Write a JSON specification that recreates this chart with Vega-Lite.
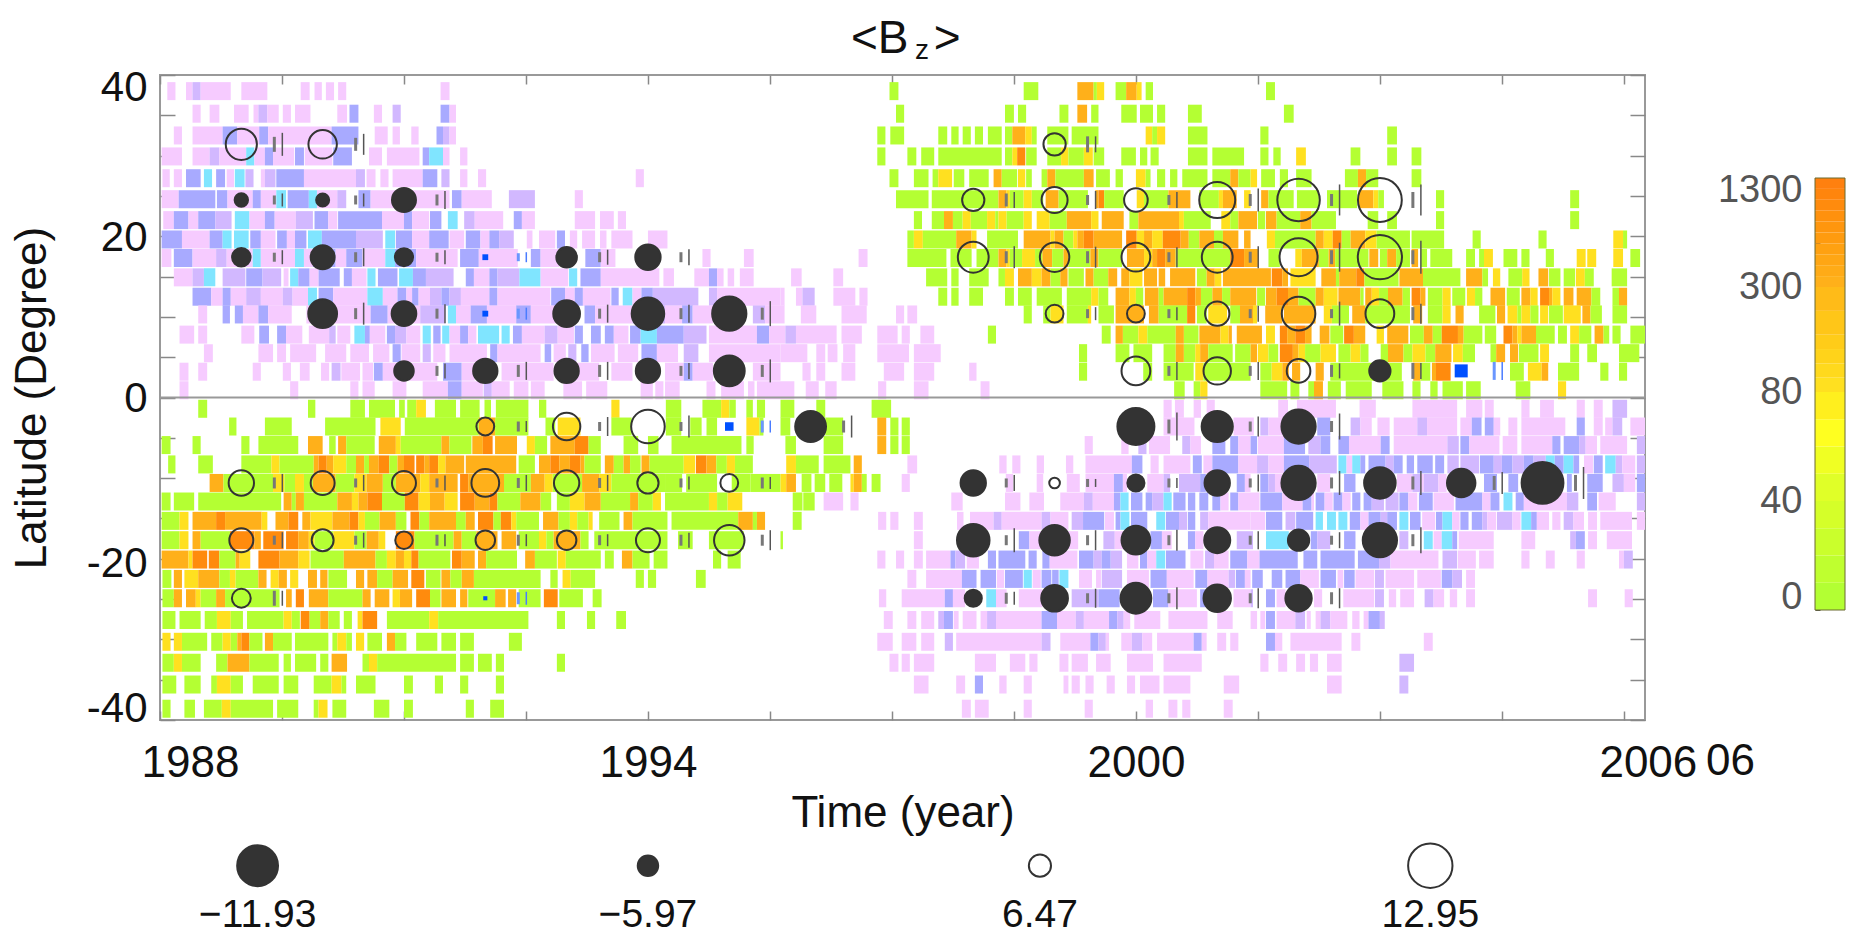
{"$schema":"https://vega.github.io/schema/vega-lite/v6.json","padding":{"left":9,"top":14,"right":0,"bottom":0},"background":"white","spacing":3,"config":{"font":"Liberation Sans"},
"datasets":{"heat":[
{"t0":1988.09,"t1":1988.19,"lat":38,"v":-1},{"t0":1988.32,"t1":1988.40,"lat":38,"v":-1},{"t0":1988.40,"t1":1988.50,"lat":38,"v":-40},{"t0":1988.50,"t1":1988.87,"lat":38,"v":-1},{"t0":1989.00,"t1":1989.32,"lat":38,"v":-1},{"t0":1989.73,"t1":1989.84,"lat":38,"v":-1},{"t0":1989.90,"t1":1989.99,"lat":38,"v":-1},{"t0":1990.04,"t1":1990.14,"lat":38,"v":-1},{"t0":1990.19,"t1":1990.29,"lat":38,"v":-1},{"t0":1991.45,"t1":1991.56,"lat":38,"v":-1},
{"t0":1988.40,"t1":1988.50,"lat":35.2,"v":-1},{"t0":1988.61,"t1":1988.73,"lat":35.2,"v":-1},{"t0":1988.91,"t1":1989.09,"lat":35.2,"v":-1},{"t0":1989.15,"t1":1989.21,"lat":35.2,"v":-1},{"t0":1989.21,"t1":1989.32,"lat":35.2,"v":-40},{"t0":1989.32,"t1":1989.46,"lat":35.2,"v":-1},{"t0":1989.51,"t1":1989.61,"lat":35.2,"v":-1},{"t0":1989.66,"t1":1989.85,"lat":35.2,"v":-1},{"t0":1990.18,"t1":1990.30,"lat":35.2,"v":-1},{"t0":1990.33,"t1":1990.44,"lat":35.2,"v":-80},{"t0":1990.63,"t1":1990.73,"lat":35.2,"v":-1},{"t0":1990.86,"t1":1990.96,"lat":35.2,"v":-40},{"t0":1991.45,"t1":1991.56,"lat":35.2,"v":-80},{"t0":1991.56,"t1":1991.64,"lat":35.2,"v":-1},
{"t0":1988.17,"t1":1988.27,"lat":32.5,"v":-1},{"t0":1988.40,"t1":1988.77,"lat":32.5,"v":-1},{"t0":1988.77,"t1":1988.95,"lat":32.5,"v":-80},{"t0":1988.95,"t1":1989.22,"lat":32.5,"v":-1},{"t0":1989.22,"t1":1989.33,"lat":32.5,"v":-80},{"t0":1989.33,"t1":1990.11,"lat":32.5,"v":-1},{"t0":1990.11,"t1":1990.44,"lat":32.5,"v":-80},{"t0":1990.64,"t1":1990.80,"lat":32.5,"v":-1},{"t0":1990.86,"t1":1990.95,"lat":32.5,"v":-1},{"t0":1991.09,"t1":1991.18,"lat":32.5,"v":-1},{"t0":1991.40,"t1":1991.48,"lat":32.5,"v":-80},{"t0":1991.48,"t1":1991.56,"lat":32.5,"v":-40},{"t0":1991.56,"t1":1991.64,"lat":32.5,"v":-1},
{"t0":1988.02,"t1":1988.27,"lat":29.9,"v":-1},{"t0":1988.40,"t1":1988.61,"lat":29.9,"v":-1},{"t0":1988.61,"t1":1988.73,"lat":29.9,"v":-40},{"t0":1988.73,"t1":1989.06,"lat":29.9,"v":-1},{"t0":1989.06,"t1":1989.16,"lat":29.9,"v":-300},{"t0":1989.16,"t1":1989.29,"lat":29.9,"v":-1},{"t0":1989.29,"t1":1989.39,"lat":29.9,"v":-80},{"t0":1989.39,"t1":1989.65,"lat":29.9,"v":-1},{"t0":1989.66,"t1":1989.77,"lat":29.9,"v":-80},{"t0":1989.78,"t1":1990.12,"lat":29.9,"v":-1},{"t0":1990.13,"t1":1990.36,"lat":29.9,"v":-80},{"t0":1990.57,"t1":1990.73,"lat":29.9,"v":-1},{"t0":1990.79,"t1":1991.19,"lat":29.9,"v":-1},{"t0":1991.23,"t1":1991.31,"lat":29.9,"v":-80},{"t0":1991.31,"t1":1991.48,"lat":29.9,"v":-300},{"t0":1991.48,"t1":1991.56,"lat":29.9,"v":-1},{"t0":1991.69,"t1":1991.78,"lat":29.9,"v":-1},
{"t0":1988.03,"t1":1988.12,"lat":27.2,"v":-1},{"t0":1988.17,"t1":1988.27,"lat":27.2,"v":-1},{"t0":1988.32,"t1":1988.50,"lat":27.2,"v":-80},{"t0":1988.54,"t1":1988.64,"lat":27.2,"v":-300},{"t0":1988.69,"t1":1988.80,"lat":27.2,"v":-80},{"t0":1988.82,"t1":1988.91,"lat":27.2,"v":-1},{"t0":1988.92,"t1":1989.04,"lat":27.2,"v":-300},{"t0":1989.05,"t1":1989.15,"lat":27.2,"v":-40},{"t0":1989.24,"t1":1989.29,"lat":27.2,"v":-1},{"t0":1989.29,"t1":1989.42,"lat":27.2,"v":-40},{"t0":1989.43,"t1":1989.77,"lat":27.2,"v":-80},{"t0":1989.77,"t1":1990.41,"lat":27.2,"v":-1},{"t0":1990.41,"t1":1990.52,"lat":27.2,"v":-40},{"t0":1990.54,"t1":1990.65,"lat":27.2,"v":-1},{"t0":1990.71,"t1":1990.81,"lat":27.2,"v":-1},{"t0":1990.86,"t1":1991.23,"lat":27.2,"v":-1},{"t0":1991.23,"t1":1991.41,"lat":27.2,"v":-80},{"t0":1991.46,"t1":1991.56,"lat":27.2,"v":-40},{"t0":1991.69,"t1":1991.78,"lat":27.2,"v":-1},{"t0":1991.91,"t1":1992.01,"lat":27.2,"v":-1},{"t0":1993.85,"t1":1993.95,"lat":27.2,"v":-1},
{"t0":1988.02,"t1":1988.23,"lat":24.6,"v":-1},{"t0":1988.23,"t1":1988.68,"lat":24.6,"v":-80},{"t0":1988.70,"t1":1988.83,"lat":24.6,"v":-80},{"t0":1988.83,"t1":1989.14,"lat":24.6,"v":-1},{"t0":1989.14,"t1":1989.24,"lat":24.6,"v":-80},{"t0":1989.24,"t1":1989.43,"lat":24.6,"v":-1},{"t0":1989.43,"t1":1989.55,"lat":24.6,"v":-300},{"t0":1989.57,"t1":1989.83,"lat":24.6,"v":-80},{"t0":1989.83,"t1":1989.93,"lat":24.6,"v":-300},{"t0":1989.93,"t1":1990.18,"lat":24.6,"v":-1},{"t0":1990.18,"t1":1990.29,"lat":24.6,"v":-40},{"t0":1990.44,"t1":1990.59,"lat":24.6,"v":-80},{"t0":1990.59,"t1":1991.56,"lat":24.6,"v":-1},{"t0":1991.59,"t1":1991.71,"lat":24.6,"v":-80},{"t0":1991.71,"t1":1992.08,"lat":24.6,"v":-1},{"t0":1992.29,"t1":1992.61,"lat":24.6,"v":-40},{"t0":1993.10,"t1":1993.20,"lat":24.6,"v":-1},
{"t0":1988.04,"t1":1988.17,"lat":22,"v":-1},{"t0":1988.17,"t1":1988.35,"lat":22,"v":-80},{"t0":1988.35,"t1":1988.47,"lat":22,"v":-1},{"t0":1988.47,"t1":1988.68,"lat":22,"v":-80},{"t0":1988.68,"t1":1988.88,"lat":22,"v":-40},{"t0":1988.92,"t1":1989.10,"lat":22,"v":-300},{"t0":1989.10,"t1":1989.29,"lat":22,"v":-1},{"t0":1989.29,"t1":1989.41,"lat":22,"v":-80},{"t0":1989.41,"t1":1989.67,"lat":22,"v":-1},{"t0":1989.67,"t1":1989.88,"lat":22,"v":-40},{"t0":1989.90,"t1":1990.07,"lat":22,"v":-80},{"t0":1990.07,"t1":1990.18,"lat":22,"v":-1},{"t0":1990.19,"t1":1990.73,"lat":22,"v":-80},{"t0":1990.73,"t1":1991.00,"lat":22,"v":-1},{"t0":1991.00,"t1":1991.10,"lat":22,"v":-80},{"t0":1991.10,"t1":1991.31,"lat":22,"v":-1},{"t0":1991.32,"t1":1991.46,"lat":22,"v":-80},{"t0":1991.54,"t1":1991.66,"lat":22,"v":-300},{"t0":1991.74,"t1":1991.87,"lat":22,"v":-40},{"t0":1991.87,"t1":1992.22,"lat":22,"v":-1},{"t0":1992.35,"t1":1992.45,"lat":22,"v":-80},{"t0":1992.45,"t1":1992.61,"lat":22,"v":-1},{"t0":1993.10,"t1":1993.35,"lat":22,"v":-1},{"t0":1993.41,"t1":1993.58,"lat":22,"v":-1},{"t0":1993.63,"t1":1993.73,"lat":22,"v":-1},
{"t0":1988.02,"t1":1988.27,"lat":19.6,"v":-80},{"t0":1988.27,"t1":1988.61,"lat":19.6,"v":-1},{"t0":1988.61,"t1":1988.77,"lat":19.6,"v":-80},{"t0":1988.77,"t1":1988.88,"lat":19.6,"v":-300},{"t0":1988.91,"t1":1989.09,"lat":19.6,"v":-300},{"t0":1989.11,"t1":1989.24,"lat":19.6,"v":-80},{"t0":1989.24,"t1":1989.42,"lat":19.6,"v":-1},{"t0":1989.44,"t1":1989.56,"lat":19.6,"v":-80},{"t0":1989.56,"t1":1989.66,"lat":19.6,"v":-1},{"t0":1989.66,"t1":1989.80,"lat":19.6,"v":-80},{"t0":1989.82,"t1":1989.99,"lat":19.6,"v":-300},{"t0":1989.99,"t1":1990.41,"lat":19.6,"v":-80},{"t0":1990.41,"t1":1990.74,"lat":19.6,"v":-40},{"t0":1990.77,"t1":1990.89,"lat":19.6,"v":-300},{"t0":1990.90,"t1":1991.10,"lat":19.6,"v":-80},{"t0":1991.10,"t1":1991.31,"lat":19.6,"v":-1},{"t0":1991.31,"t1":1991.55,"lat":19.6,"v":-80},{"t0":1991.56,"t1":1991.74,"lat":19.6,"v":-1},{"t0":1991.76,"t1":1991.94,"lat":19.6,"v":-80},{"t0":1991.94,"t1":1992.05,"lat":19.6,"v":-1},{"t0":1992.05,"t1":1992.17,"lat":19.6,"v":-80},{"t0":1992.17,"t1":1992.35,"lat":19.6,"v":-40},{"t0":1992.51,"t1":1992.58,"lat":19.6,"v":-1},{"t0":1992.66,"t1":1992.86,"lat":19.6,"v":-1},{"t0":1992.88,"t1":1992.98,"lat":19.6,"v":-80},{"t0":1993.04,"t1":1993.13,"lat":19.6,"v":-1},{"t0":1993.19,"t1":1993.35,"lat":19.6,"v":-1},{"t0":1993.41,"t1":1993.49,"lat":19.6,"v":-1},{"t0":1993.55,"t1":1993.81,"lat":19.6,"v":-1},{"t0":1994.00,"t1":1994.24,"lat":19.6,"v":-1},
{"t0":1988.02,"t1":1988.14,"lat":17.3,"v":-1},{"t0":1988.17,"t1":1988.40,"lat":17.3,"v":-80},{"t0":1988.40,"t1":1988.69,"lat":17.3,"v":-1},{"t0":1988.69,"t1":1988.82,"lat":17.3,"v":-40},{"t0":1988.82,"t1":1989.14,"lat":17.3,"v":-1},{"t0":1989.14,"t1":1989.24,"lat":17.3,"v":-300},{"t0":1989.24,"t1":1989.66,"lat":17.3,"v":-1},{"t0":1989.66,"t1":1989.77,"lat":17.3,"v":-300},{"t0":1989.77,"t1":1989.88,"lat":17.3,"v":-1},{"t0":1989.88,"t1":1990.16,"lat":17.3,"v":-80},{"t0":1990.16,"t1":1990.29,"lat":17.3,"v":-1},{"t0":1990.29,"t1":1990.49,"lat":17.3,"v":-80},{"t0":1990.49,"t1":1990.77,"lat":17.3,"v":-1},{"t0":1990.77,"t1":1990.89,"lat":17.3,"v":-300},{"t0":1990.89,"t1":1991.15,"lat":17.3,"v":-80},{"t0":1991.15,"t1":1991.66,"lat":17.3,"v":-1},{"t0":1991.69,"t1":1991.92,"lat":17.3,"v":-80},{"t0":1991.92,"t1":1992.40,"lat":17.3,"v":-1},{"t0":1992.56,"t1":1992.68,"lat":17.3,"v":-80},{"t0":1992.68,"t1":1992.91,"lat":17.3,"v":-1},{"t0":1993.23,"t1":1993.42,"lat":17.3,"v":-80},{"t0":1993.42,"t1":1993.60,"lat":17.3,"v":-1},{"t0":1994.67,"t1":1994.77,"lat":17.3,"v":-1},{"t0":1995.18,"t1":1995.30,"lat":17.3,"v":-1},
{"t0":1988.17,"t1":1988.40,"lat":14.9,"v":-1},{"t0":1988.40,"t1":1988.54,"lat":14.9,"v":-40},{"t0":1988.54,"t1":1988.68,"lat":14.9,"v":-300},{"t0":1988.77,"t1":1989.05,"lat":14.9,"v":-40},{"t0":1989.06,"t1":1989.26,"lat":14.9,"v":-80},{"t0":1989.26,"t1":1989.49,"lat":14.9,"v":-40},{"t0":1989.52,"t1":1989.58,"lat":14.9,"v":-1},{"t0":1989.60,"t1":1989.70,"lat":14.9,"v":-300},{"t0":1989.70,"t1":1989.84,"lat":14.9,"v":-80},{"t0":1989.84,"t1":1989.95,"lat":14.9,"v":-1},{"t0":1989.95,"t1":1990.21,"lat":14.9,"v":-80},{"t0":1990.26,"t1":1990.36,"lat":14.9,"v":-80},{"t0":1990.36,"t1":1990.54,"lat":14.9,"v":-1},{"t0":1990.55,"t1":1990.65,"lat":14.9,"v":-300},{"t0":1990.68,"t1":1990.92,"lat":14.9,"v":-80},{"t0":1990.94,"t1":1991.11,"lat":14.9,"v":-300},{"t0":1991.11,"t1":1991.27,"lat":14.9,"v":-80},{"t0":1991.27,"t1":1991.61,"lat":14.9,"v":-40},{"t0":1991.76,"t1":1991.86,"lat":14.9,"v":-80},{"t0":1991.86,"t1":1992.05,"lat":14.9,"v":-1},{"t0":1992.05,"t1":1992.15,"lat":14.9,"v":-80},{"t0":1992.15,"t1":1992.42,"lat":14.9,"v":-40},{"t0":1992.42,"t1":1992.68,"lat":14.9,"v":-300},{"t0":1992.68,"t1":1993.02,"lat":14.9,"v":-1},{"t0":1993.03,"t1":1993.13,"lat":14.9,"v":-300},{"t0":1993.17,"t1":1993.42,"lat":14.9,"v":-80},{"t0":1993.42,"t1":1994.14,"lat":14.9,"v":-1},{"t0":1994.19,"t1":1994.32,"lat":14.9,"v":-1},{"t0":1994.57,"t1":1994.75,"lat":14.9,"v":-1},{"t0":1994.75,"t1":1994.85,"lat":14.9,"v":-80},{"t0":1994.85,"t1":1994.93,"lat":14.9,"v":-1},{"t0":1994.98,"t1":1995.06,"lat":14.9,"v":-1},{"t0":1995.13,"t1":1995.30,"lat":14.9,"v":-1},{"t0":1995.76,"t1":1995.89,"lat":14.9,"v":-1},{"t0":1996.28,"t1":1996.40,"lat":14.9,"v":-1},
{"t0":1988.40,"t1":1988.63,"lat":12.5,"v":-80},{"t0":1988.63,"t1":1988.77,"lat":12.5,"v":-1},{"t0":1988.77,"t1":1988.87,"lat":12.5,"v":-80},{"t0":1988.87,"t1":1989.06,"lat":12.5,"v":-1},{"t0":1989.06,"t1":1989.24,"lat":12.5,"v":-40},{"t0":1989.24,"t1":1989.51,"lat":12.5,"v":-1},{"t0":1989.51,"t1":1989.63,"lat":12.5,"v":-40},{"t0":1989.63,"t1":1989.82,"lat":12.5,"v":-1},{"t0":1989.82,"t1":1989.93,"lat":12.5,"v":-300},{"t0":1989.95,"t1":1990.13,"lat":12.5,"v":-80},{"t0":1990.13,"t1":1990.55,"lat":12.5,"v":-1},{"t0":1990.55,"t1":1990.74,"lat":12.5,"v":-300},{"t0":1990.74,"t1":1990.92,"lat":12.5,"v":-1},{"t0":1990.92,"t1":1991.03,"lat":12.5,"v":-80},{"t0":1991.03,"t1":1991.10,"lat":12.5,"v":-1},{"t0":1991.10,"t1":1991.18,"lat":12.5,"v":-80},{"t0":1991.18,"t1":1991.32,"lat":12.5,"v":-1},{"t0":1991.32,"t1":1991.46,"lat":12.5,"v":-40},{"t0":1991.46,"t1":1991.56,"lat":12.5,"v":-80},{"t0":1991.56,"t1":1991.70,"lat":12.5,"v":-40},{"t0":1991.70,"t1":1992.05,"lat":12.5,"v":-1},{"t0":1992.05,"t1":1992.15,"lat":12.5,"v":-80},{"t0":1992.15,"t1":1992.80,"lat":12.5,"v":-1},{"t0":1992.81,"t1":1992.98,"lat":12.5,"v":-80},{"t0":1992.98,"t1":1993.10,"lat":12.5,"v":-1},{"t0":1993.10,"t1":1993.20,"lat":12.5,"v":-80},{"t0":1993.20,"t1":1993.54,"lat":12.5,"v":-1},{"t0":1993.55,"t1":1993.64,"lat":12.5,"v":-80},{"t0":1993.69,"t1":1993.81,"lat":12.5,"v":-300},{"t0":1993.81,"t1":1993.92,"lat":12.5,"v":-1},{"t0":1993.92,"t1":1994.06,"lat":12.5,"v":-80},{"t0":1994.06,"t1":1994.62,"lat":12.5,"v":-40},{"t0":1994.75,"t1":1994.85,"lat":12.5,"v":-40},{"t0":1994.85,"t1":1995.63,"lat":12.5,"v":-1},{"t0":1995.63,"t1":1995.68,"lat":12.5,"v":-1},{"t0":1995.82,"t1":1995.90,"lat":12.5,"v":-1},{"t0":1995.90,"t1":1996.05,"lat":12.5,"v":-40},{"t0":1996.28,"t1":1996.55,"lat":12.5,"v":-1},{"t0":1996.60,"t1":1996.70,"lat":12.5,"v":-1},
{"t0":1988.47,"t1":1988.58,"lat":10.3,"v":-1},{"t0":1988.77,"t1":1988.86,"lat":10.3,"v":-80},{"t0":1988.92,"t1":1989.02,"lat":10.3,"v":-80},{"t0":1989.02,"t1":1989.21,"lat":10.3,"v":-1},{"t0":1989.21,"t1":1989.33,"lat":10.3,"v":-80},{"t0":1989.33,"t1":1989.62,"lat":10.3,"v":-1},{"t0":1989.80,"t1":1990.59,"lat":10.3,"v":-1},{"t0":1990.59,"t1":1990.80,"lat":10.3,"v":-80},{"t0":1990.80,"t1":1991.20,"lat":10.3,"v":-1},{"t0":1991.20,"t1":1991.51,"lat":10.3,"v":-40},{"t0":1991.54,"t1":1991.64,"lat":10.3,"v":-300},{"t0":1991.64,"t1":1991.82,"lat":10.3,"v":-1},{"t0":1991.82,"t1":1992.02,"lat":10.3,"v":-80},{"t0":1992.02,"t1":1992.38,"lat":10.3,"v":-1},{"t0":1992.38,"t1":1992.56,"lat":10.3,"v":-80},{"t0":1992.56,"t1":1993.04,"lat":10.3,"v":-1},{"t0":1993.22,"t1":1993.35,"lat":10.3,"v":-80},{"t0":1993.35,"t1":1993.81,"lat":10.3,"v":-1},{"t0":1993.81,"t1":1994.21,"lat":10.3,"v":-40},{"t0":1994.21,"t1":1994.42,"lat":10.3,"v":-1},{"t0":1994.42,"t1":1994.55,"lat":10.3,"v":-80},{"t0":1994.55,"t1":1994.80,"lat":10.3,"v":-1},{"t0":1995.29,"t1":1995.44,"lat":10.3,"v":-40},{"t0":1995.44,"t1":1995.68,"lat":10.3,"v":-1},{"t0":1995.88,"t1":1996.07,"lat":10.3,"v":-1},{"t0":1996.38,"t1":1996.69,"lat":10.3,"v":-1},{"t0":1997.05,"t1":1997.15,"lat":10.3,"v":-1},{"t0":1997.19,"t1":1997.31,"lat":10.3,"v":-1},
{"t0":1988.24,"t1":1988.42,"lat":7.8,"v":-1},{"t0":1988.47,"t1":1988.58,"lat":7.8,"v":-1},{"t0":1989.00,"t1":1989.16,"lat":7.8,"v":-1},{"t0":1989.22,"t1":1989.34,"lat":7.8,"v":-80},{"t0":1989.44,"t1":1989.55,"lat":7.8,"v":-80},{"t0":1989.55,"t1":1989.75,"lat":7.8,"v":-1},{"t0":1989.83,"t1":1990.08,"lat":7.8,"v":-1},{"t0":1990.08,"t1":1990.16,"lat":7.8,"v":-40},{"t0":1990.18,"t1":1990.34,"lat":7.8,"v":-1},{"t0":1990.39,"t1":1990.52,"lat":7.8,"v":-300},{"t0":1990.52,"t1":1990.58,"lat":7.8,"v":-80},{"t0":1990.58,"t1":1990.77,"lat":7.8,"v":-1},{"t0":1990.79,"t1":1990.89,"lat":7.8,"v":-80},{"t0":1990.89,"t1":1991.03,"lat":7.8,"v":-40},{"t0":1991.03,"t1":1991.20,"lat":7.8,"v":-1},{"t0":1991.23,"t1":1991.33,"lat":7.8,"v":-300},{"t0":1991.36,"t1":1991.45,"lat":7.8,"v":-80},{"t0":1991.47,"t1":1991.56,"lat":7.8,"v":-300},{"t0":1991.56,"t1":1991.69,"lat":7.8,"v":-1},{"t0":1991.69,"t1":1991.79,"lat":7.8,"v":-80},{"t0":1991.79,"t1":1991.89,"lat":7.8,"v":-1},{"t0":1991.91,"t1":1992.17,"lat":7.8,"v":-300},{"t0":1992.20,"t1":1992.30,"lat":7.8,"v":-300},{"t0":1992.34,"t1":1992.45,"lat":7.8,"v":-80},{"t0":1992.45,"t1":1992.73,"lat":7.8,"v":-1},{"t0":1992.73,"t1":1992.89,"lat":7.8,"v":-40},{"t0":1992.89,"t1":1993.09,"lat":7.8,"v":-1},{"t0":1993.10,"t1":1993.20,"lat":7.8,"v":-80},{"t0":1993.30,"t1":1993.42,"lat":7.8,"v":-80},{"t0":1993.47,"t1":1993.58,"lat":7.8,"v":-80},{"t0":1993.58,"t1":1993.76,"lat":7.8,"v":-1},{"t0":1993.78,"t1":1993.91,"lat":7.8,"v":-80},{"t0":1993.91,"t1":1994.11,"lat":7.8,"v":-300},{"t0":1994.11,"t1":1994.44,"lat":7.8,"v":-80},{"t0":1994.44,"t1":1994.72,"lat":7.8,"v":-40},{"t0":1994.75,"t1":1995.34,"lat":7.8,"v":-1},{"t0":1995.34,"t1":1995.49,"lat":7.8,"v":-80},{"t0":1995.49,"t1":1995.69,"lat":7.8,"v":-1},{"t0":1995.69,"t1":1995.82,"lat":7.8,"v":-40},{"t0":1995.82,"t1":1996.32,"lat":7.8,"v":-1},{"t0":1996.38,"t1":1996.63,"lat":7.8,"v":-1},{"t0":1996.82,"t1":1997.07,"lat":7.8,"v":-1},{"t0":1997.12,"t1":1997.22,"lat":7.8,"v":-1},{"t0":1997.35,"t1":1997.52,"lat":7.8,"v":-1},
{"t0":1988.54,"t1":1988.65,"lat":5.5,"v":-1},{"t0":1989.21,"t1":1989.39,"lat":5.5,"v":-1},{"t0":1989.44,"t1":1989.55,"lat":5.5,"v":-1},{"t0":1989.60,"t1":1989.92,"lat":5.5,"v":-1},{"t0":1990.03,"t1":1990.29,"lat":5.5,"v":-1},{"t0":1990.34,"t1":1990.57,"lat":5.5,"v":-1},{"t0":1990.62,"t1":1990.82,"lat":5.5,"v":-1},{"t0":1990.86,"t1":1990.96,"lat":5.5,"v":-80},{"t0":1990.97,"t1":1991.20,"lat":5.5,"v":-1},{"t0":1991.23,"t1":1991.33,"lat":5.5,"v":-40},{"t0":1991.36,"t1":1991.51,"lat":5.5,"v":-1},{"t0":1991.56,"t1":1992.02,"lat":5.5,"v":-1},{"t0":1992.06,"t1":1992.15,"lat":5.5,"v":-80},{"t0":1992.15,"t1":1992.68,"lat":5.5,"v":-1},{"t0":1992.73,"t1":1992.81,"lat":5.5,"v":-80},{"t0":1992.84,"t1":1992.99,"lat":5.5,"v":-1},{"t0":1993.02,"t1":1993.12,"lat":5.5,"v":-40},{"t0":1993.18,"t1":1993.27,"lat":5.5,"v":-80},{"t0":1993.30,"t1":1993.59,"lat":5.5,"v":-1},{"t0":1993.63,"t1":1993.88,"lat":5.5,"v":-1},{"t0":1993.92,"t1":1994.11,"lat":5.5,"v":-80},{"t0":1994.11,"t1":1994.37,"lat":5.5,"v":-1},{"t0":1994.44,"t1":1994.62,"lat":5.5,"v":-40},{"t0":1994.75,"t1":1995.63,"lat":5.5,"v":-1},{"t0":1995.63,"t1":1995.96,"lat":5.5,"v":-1},{"t0":1996.07,"t1":1996.18,"lat":5.5,"v":-1},{"t0":1996.21,"t1":1996.33,"lat":5.5,"v":-1},{"t0":1996.40,"t1":1996.55,"lat":5.5,"v":-1},{"t0":1996.82,"t1":1997.21,"lat":5.5,"v":-1},{"t0":1997.27,"t1":1997.60,"lat":5.5,"v":-1},
{"t0":1988.24,"t1":1988.35,"lat":3.2,"v":-1},{"t0":1988.47,"t1":1988.58,"lat":3.2,"v":-1},{"t0":1989.14,"t1":1989.24,"lat":3.2,"v":-1},{"t0":1989.51,"t1":1989.61,"lat":3.2,"v":-1},{"t0":1989.72,"t1":1989.84,"lat":3.2,"v":-1},{"t0":1989.98,"t1":1990.08,"lat":3.2,"v":-1},{"t0":1990.11,"t1":1990.22,"lat":3.2,"v":-40},{"t0":1990.23,"t1":1990.46,"lat":3.2,"v":-1},{"t0":1990.49,"t1":1990.62,"lat":3.2,"v":-1},{"t0":1990.63,"t1":1990.74,"lat":3.2,"v":-80},{"t0":1990.74,"t1":1991.41,"lat":3.2,"v":-1},{"t0":1991.48,"t1":1991.71,"lat":3.2,"v":-80},{"t0":1991.71,"t1":1991.87,"lat":3.2,"v":-1},{"t0":1992.20,"t1":1992.84,"lat":3.2,"v":-1},{"t0":1993.04,"t1":1993.40,"lat":3.2,"v":-1},{"t0":1993.55,"t1":1993.81,"lat":3.2,"v":-1},{"t0":1994.21,"t1":1994.44,"lat":3.2,"v":-1},{"t0":1994.44,"t1":1994.55,"lat":3.2,"v":-80},{"t0":1994.55,"t1":1994.80,"lat":3.2,"v":-1},{"t0":1995.29,"t1":1995.63,"lat":3.2,"v":-1},{"t0":1995.90,"t1":1996.00,"lat":3.2,"v":-1},{"t0":1996.07,"t1":1996.18,"lat":3.2,"v":-1},{"t0":1996.38,"t1":1996.55,"lat":3.2,"v":-1},{"t0":1996.90,"t1":1997.15,"lat":3.2,"v":-1},{"t0":1997.27,"t1":1997.52,"lat":3.2,"v":-1},{"t0":1997.95,"t1":1998.04,"lat":3.2,"v":-1},
{"t0":1988.24,"t1":1988.35,"lat":0.9,"v":-1},{"t0":1989.60,"t1":1989.70,"lat":0.9,"v":-1},{"t0":1990.34,"t1":1990.44,"lat":0.9,"v":-1},{"t0":1990.49,"t1":1990.64,"lat":0.9,"v":-1},{"t0":1990.86,"t1":1991.03,"lat":0.9,"v":-1},{"t0":1991.23,"t1":1991.54,"lat":0.9,"v":-1},{"t0":1991.54,"t1":1991.71,"lat":0.9,"v":-80},{"t0":1991.71,"t1":1991.97,"lat":0.9,"v":-1},{"t0":1991.98,"t1":1992.08,"lat":0.9,"v":-40},{"t0":1992.08,"t1":1992.30,"lat":0.9,"v":-1},{"t0":1992.35,"t1":1992.53,"lat":0.9,"v":-1},{"t0":1992.56,"t1":1992.73,"lat":0.9,"v":-1},{"t0":1992.96,"t1":1993.19,"lat":0.9,"v":-1},{"t0":1993.24,"t1":1993.50,"lat":0.9,"v":-1},{"t0":1993.91,"t1":1994.06,"lat":0.9,"v":-1},{"t0":1994.09,"t1":1994.19,"lat":0.9,"v":-1},{"t0":1994.21,"t1":1994.39,"lat":0.9,"v":-1},{"t0":1994.72,"t1":1994.83,"lat":0.9,"v":-1},{"t0":1994.90,"t1":1995.18,"lat":0.9,"v":-1},{"t0":1995.23,"t1":1995.31,"lat":0.9,"v":-1},{"t0":1995.34,"t1":1995.80,"lat":0.9,"v":-1},{"t0":1995.94,"t1":1996.10,"lat":0.9,"v":-1},{"t0":1996.18,"t1":1996.32,"lat":0.9,"v":-1},{"t0":1996.83,"t1":1996.93,"lat":0.9,"v":-1},{"t0":1997.27,"t1":1997.45,"lat":0.9,"v":-1},{"t0":1998.09,"t1":1998.20,"lat":0.9,"v":-1},
{"t0":1988.47,"t1":1988.58,"lat":-1.4,"v":1},{"t0":1989.82,"t1":1989.91,"lat":-1.4,"v":1},{"t0":1990.34,"t1":1990.52,"lat":-1.4,"v":1},{"t0":1990.57,"t1":1990.89,"lat":-1.4,"v":1},{"t0":1990.94,"t1":1991.01,"lat":-1.4,"v":1},{"t0":1991.04,"t1":1991.15,"lat":-1.4,"v":1},{"t0":1991.15,"t1":1991.27,"lat":-1.4,"v":80},{"t0":1991.38,"t1":1991.64,"lat":-1.4,"v":1},{"t0":1991.69,"t1":1991.93,"lat":-1.4,"v":1},{"t0":1991.99,"t1":1992.07,"lat":-1.4,"v":1},{"t0":1992.13,"t1":1992.53,"lat":-1.4,"v":1},{"t0":1992.66,"t1":1992.75,"lat":-1.4,"v":1},{"t0":1993.55,"t1":1993.65,"lat":-1.4,"v":80},{"t0":1994.22,"t1":1994.41,"lat":-1.4,"v":1},{"t0":1994.67,"t1":1994.90,"lat":-1.4,"v":1},{"t0":1994.90,"t1":1995.00,"lat":-1.4,"v":80},{"t0":1995.00,"t1":1995.08,"lat":-1.4,"v":1},{"t0":1995.21,"t1":1995.29,"lat":-1.4,"v":1},{"t0":1995.34,"t1":1995.44,"lat":-1.4,"v":1},{"t0":1995.63,"t1":1995.80,"lat":-1.4,"v":1},{"t0":1996.07,"t1":1996.18,"lat":-1.4,"v":1},{"t0":1996.75,"t1":1996.99,"lat":-1.4,"v":1},{"t0":2000.34,"t1":2000.44,"lat":-1.4,"v":-1},{"t0":2000.48,"t1":2000.59,"lat":-1.4,"v":-1},{"t0":2000.71,"t1":2000.80,"lat":-1.4,"v":-1},{"t0":2000.87,"t1":2000.97,"lat":-1.4,"v":-1},{"t0":2001.75,"t1":2001.87,"lat":-1.4,"v":-1},{"t0":2001.98,"t1":2002.46,"lat":-1.4,"v":-1},{"t0":2002.75,"t1":2002.95,"lat":-1.4,"v":-1},{"t0":2003.40,"t1":2003.95,"lat":-1.4,"v":-1},{"t0":2004.06,"t1":2004.26,"lat":-1.4,"v":-1},{"t0":2004.29,"t1":2004.40,"lat":-1.4,"v":-1},{"t0":2004.74,"t1":2004.84,"lat":-1.4,"v":-1},{"t0":2004.97,"t1":2005.14,"lat":-1.4,"v":-1},{"t0":2005.42,"t1":2005.52,"lat":-1.4,"v":-1},{"t0":2005.63,"t1":2005.74,"lat":-1.4,"v":-1},{"t0":2005.86,"t1":2006.04,"lat":-1.4,"v":-40},
{"t0":1988.85,"t1":1988.94,"lat":-3.6,"v":1},{"t0":1989.29,"t1":1989.62,"lat":-3.6,"v":1},{"t0":1990.03,"t1":1990.65,"lat":-3.6,"v":1},{"t0":1990.71,"t1":1990.96,"lat":-3.6,"v":80},{"t0":1991.01,"t1":1991.92,"lat":-3.6,"v":1},{"t0":1991.92,"t1":1992.12,"lat":-3.6,"v":300},{"t0":1992.12,"t1":1992.53,"lat":-3.6,"v":1},{"t0":1992.74,"t1":1992.86,"lat":-3.6,"v":1},{"t0":1992.89,"t1":1993.17,"lat":-3.6,"v":80},{"t0":1993.55,"t1":1993.80,"lat":-3.6,"v":1},{"t0":1994.22,"t1":1994.41,"lat":-3.6,"v":1},{"t0":1994.52,"t1":1994.66,"lat":-3.6,"v":1},{"t0":1994.72,"t1":1994.85,"lat":-3.6,"v":1},{"t0":1995.21,"t1":1995.37,"lat":-3.6,"v":80},{"t0":1995.37,"t1":1995.42,"lat":-3.6,"v":1},{"t0":1995.63,"t1":1995.75,"lat":-3.6,"v":1},{"t0":1996.18,"t1":1996.40,"lat":-3.6,"v":1},{"t0":1996.82,"t1":1996.93,"lat":-3.6,"v":300},{"t0":1996.98,"t1":1997.08,"lat":-3.6,"v":1},{"t0":1997.12,"t1":1997.22,"lat":-3.6,"v":1},{"t0":2000.34,"t1":2000.72,"lat":-3.6,"v":-1},{"t0":2001.20,"t1":2001.45,"lat":-3.6,"v":-1},{"t0":2001.53,"t1":2001.63,"lat":-3.6,"v":-40},{"t0":2001.63,"t1":2001.82,"lat":-3.6,"v":-1},{"t0":2002.23,"t1":2002.39,"lat":-3.6,"v":-80},{"t0":2002.64,"t1":2002.76,"lat":-3.6,"v":-40},{"t0":2002.76,"t1":2002.90,"lat":-3.6,"v":-1},{"t0":2002.97,"t1":2003.12,"lat":-3.6,"v":-1},{"t0":2003.17,"t1":2003.46,"lat":-3.6,"v":-1},{"t0":2003.46,"t1":2003.58,"lat":-3.6,"v":-40},{"t0":2003.58,"t1":2003.95,"lat":-3.6,"v":-1},{"t0":2003.99,"t1":2004.13,"lat":-3.6,"v":-1},{"t0":2004.13,"t1":2004.25,"lat":-3.6,"v":-80},{"t0":2004.29,"t1":2004.40,"lat":-3.6,"v":-80},{"t0":2004.40,"t1":2004.48,"lat":-3.6,"v":-1},{"t0":2004.58,"t1":2004.69,"lat":-3.6,"v":-1},{"t0":2004.74,"t1":2005.28,"lat":-3.6,"v":-1},{"t0":2005.42,"t1":2005.52,"lat":-3.6,"v":-80},{"t0":2005.63,"t1":2005.74,"lat":-3.6,"v":-1},{"t0":2005.77,"t1":2005.86,"lat":-3.6,"v":-1},{"t0":2005.86,"t1":2005.98,"lat":-3.6,"v":-40},{"t0":2006.08,"t1":2006.26,"lat":-3.6,"v":-1},
{"t0":1988.02,"t1":1988.13,"lat":-5.9,"v":1},{"t0":1988.40,"t1":1988.50,"lat":-5.9,"v":1},{"t0":1989.00,"t1":1989.10,"lat":-5.9,"v":1},{"t0":1989.21,"t1":1989.70,"lat":-5.9,"v":1},{"t0":1989.82,"t1":1990.00,"lat":-5.9,"v":300},{"t0":1990.08,"t1":1990.16,"lat":-5.9,"v":1},{"t0":1990.19,"t1":1990.29,"lat":-5.9,"v":300},{"t0":1990.29,"t1":1990.64,"lat":-5.9,"v":1},{"t0":1990.69,"t1":1990.90,"lat":-5.9,"v":300},{"t0":1990.90,"t1":1990.96,"lat":-5.9,"v":80},{"t0":1990.96,"t1":1991.46,"lat":-5.9,"v":1},{"t0":1991.46,"t1":1991.56,"lat":-5.9,"v":300},{"t0":1991.56,"t1":1991.83,"lat":-5.9,"v":1},{"t0":1991.84,"t1":1991.97,"lat":-5.9,"v":300},{"t0":1991.97,"t1":1992.09,"lat":-5.9,"v":1000},{"t0":1992.12,"t1":1992.39,"lat":-5.9,"v":300},{"t0":1992.51,"t1":1992.61,"lat":-5.9,"v":80},{"t0":1992.61,"t1":1992.76,"lat":-5.9,"v":1},{"t0":1992.80,"t1":1993.10,"lat":-5.9,"v":300},{"t0":1993.10,"t1":1993.27,"lat":-5.9,"v":1000},{"t0":1993.27,"t1":1993.42,"lat":-5.9,"v":1},{"t0":1993.70,"t1":1993.88,"lat":-5.9,"v":1},{"t0":1994.00,"t1":1994.13,"lat":-5.9,"v":1},{"t0":1994.29,"t1":1995.15,"lat":-5.9,"v":1},{"t0":1995.21,"t1":1995.30,"lat":-5.9,"v":1},{"t0":1995.69,"t1":1995.82,"lat":-5.9,"v":1},{"t0":1996.16,"t1":1996.40,"lat":-5.9,"v":1},{"t0":1996.82,"t1":1996.93,"lat":-5.9,"v":300},{"t0":1996.98,"t1":1997.08,"lat":-5.9,"v":1},{"t0":1997.12,"t1":1997.22,"lat":-5.9,"v":1},{"t0":1999.37,"t1":1999.47,"lat":-5.9,"v":-1},{"t0":1999.82,"t1":1999.91,"lat":-5.9,"v":-1},{"t0":2000.03,"t1":2000.13,"lat":-5.9,"v":-40},{"t0":2000.16,"t1":2000.42,"lat":-5.9,"v":-1},{"t0":2000.57,"t1":2000.67,"lat":-5.9,"v":-40},{"t0":2000.67,"t1":2000.80,"lat":-5.9,"v":-1},{"t0":2000.94,"t1":2001.10,"lat":-5.9,"v":-80},{"t0":2001.16,"t1":2001.26,"lat":-5.9,"v":-80},{"t0":2001.26,"t1":2001.41,"lat":-5.9,"v":-1},{"t0":2001.41,"t1":2001.49,"lat":-5.9,"v":-80},{"t0":2001.50,"t1":2001.82,"lat":-5.9,"v":-1},{"t0":2001.82,"t1":2002.08,"lat":-5.9,"v":-80},{"t0":2002.12,"t1":2002.27,"lat":-5.9,"v":-40},{"t0":2002.27,"t1":2002.39,"lat":-5.9,"v":-80},{"t0":2002.49,"t1":2002.62,"lat":-5.9,"v":-80},{"t0":2002.62,"t1":2003.01,"lat":-5.9,"v":-1},{"t0":2003.01,"t1":2003.12,"lat":-5.9,"v":-80},{"t0":2003.17,"t1":2003.83,"lat":-5.9,"v":-1},{"t0":2003.83,"t1":2003.97,"lat":-5.9,"v":-40},{"t0":2003.99,"t1":2004.10,"lat":-5.9,"v":-80},{"t0":2004.10,"t1":2004.47,"lat":-5.9,"v":-1},{"t0":2004.51,"t1":2004.69,"lat":-5.9,"v":-1},{"t0":2004.74,"t1":2005.12,"lat":-5.9,"v":-1},{"t0":2005.12,"t1":2005.22,"lat":-5.9,"v":-80},{"t0":2005.26,"t1":2005.45,"lat":-5.9,"v":-80},{"t0":2005.45,"t1":2005.53,"lat":-5.9,"v":-40},{"t0":2005.53,"t1":2005.67,"lat":-5.9,"v":-1},{"t0":2005.71,"t1":2006.04,"lat":-5.9,"v":-1},{"t0":2006.16,"t1":2006.26,"lat":-5.9,"v":-40},
{"t0":1988.10,"t1":1988.19,"lat":-8.3,"v":1},{"t0":1988.47,"t1":1988.65,"lat":-8.3,"v":1},{"t0":1989.00,"t1":1989.37,"lat":-8.3,"v":1},{"t0":1989.37,"t1":1989.47,"lat":-8.3,"v":80},{"t0":1989.47,"t1":1989.89,"lat":-8.3,"v":1},{"t0":1989.89,"t1":1989.95,"lat":-8.3,"v":300},{"t0":1989.95,"t1":1990.05,"lat":-8.3,"v":1000},{"t0":1990.05,"t1":1990.13,"lat":-8.3,"v":300},{"t0":1990.13,"t1":1990.29,"lat":-8.3,"v":80},{"t0":1990.29,"t1":1990.41,"lat":-8.3,"v":1},{"t0":1990.41,"t1":1990.51,"lat":-8.3,"v":300},{"t0":1990.51,"t1":1990.57,"lat":-8.3,"v":1},{"t0":1990.57,"t1":1990.69,"lat":-8.3,"v":300},{"t0":1990.69,"t1":1990.82,"lat":-8.3,"v":1000},{"t0":1990.82,"t1":1990.92,"lat":-8.3,"v":1},{"t0":1990.92,"t1":1991.00,"lat":-8.3,"v":300},{"t0":1991.00,"t1":1991.13,"lat":-8.3,"v":1000},{"t0":1991.15,"t1":1991.25,"lat":-8.3,"v":1000},{"t0":1991.25,"t1":1991.31,"lat":-8.3,"v":300},{"t0":1991.31,"t1":1991.42,"lat":-8.3,"v":1000},{"t0":1991.42,"t1":1991.51,"lat":-8.3,"v":80},{"t0":1991.51,"t1":1991.74,"lat":-8.3,"v":300},{"t0":1991.76,"t1":1992.38,"lat":-8.3,"v":300},{"t0":1992.41,"t1":1992.61,"lat":-8.3,"v":1},{"t0":1992.66,"t1":1992.80,"lat":-8.3,"v":300},{"t0":1992.80,"t1":1992.91,"lat":-8.3,"v":1000},{"t0":1992.91,"t1":1993.04,"lat":-8.3,"v":300},{"t0":1993.04,"t1":1993.17,"lat":-8.3,"v":1000},{"t0":1993.17,"t1":1993.22,"lat":-8.3,"v":300},{"t0":1993.22,"t1":1993.42,"lat":-8.3,"v":1},{"t0":1993.47,"t1":1993.58,"lat":-8.3,"v":300},{"t0":1993.58,"t1":1993.70,"lat":-8.3,"v":1},{"t0":1993.70,"t1":1993.78,"lat":-8.3,"v":300},{"t0":1993.78,"t1":1993.91,"lat":-8.3,"v":1},{"t0":1993.92,"t1":1994.02,"lat":-8.3,"v":300},{"t0":1994.02,"t1":1994.44,"lat":-8.3,"v":1},{"t0":1994.44,"t1":1994.58,"lat":-8.3,"v":80},{"t0":1994.59,"t1":1994.72,"lat":-8.3,"v":1000},{"t0":1994.72,"t1":1994.84,"lat":-8.3,"v":300},{"t0":1994.84,"t1":1994.97,"lat":-8.3,"v":1},{"t0":1994.97,"t1":1995.07,"lat":-8.3,"v":80},{"t0":1995.07,"t1":1995.29,"lat":-8.3,"v":1},{"t0":1995.70,"t1":1995.82,"lat":-8.3,"v":80},{"t0":1995.82,"t1":1996.10,"lat":-8.3,"v":1},{"t0":1996.16,"t1":1996.49,"lat":-8.3,"v":1},{"t0":1996.53,"t1":1996.63,"lat":-8.3,"v":300},{"t0":1997.19,"t1":1997.31,"lat":-8.3,"v":-1},{"t0":1998.32,"t1":1998.41,"lat":-8.3,"v":-1},{"t0":1998.48,"t1":1998.58,"lat":-8.3,"v":-1},{"t0":1998.78,"t1":1998.87,"lat":-8.3,"v":-1},{"t0":1999.14,"t1":1999.23,"lat":-8.3,"v":-1},{"t0":1999.38,"t1":1999.95,"lat":-8.3,"v":-1},{"t0":1999.95,"t1":2000.08,"lat":-8.3,"v":-80},{"t0":2000.18,"t1":2000.28,"lat":-8.3,"v":-1},{"t0":2000.34,"t1":2000.67,"lat":-8.3,"v":-1},{"t0":2000.70,"t1":2000.81,"lat":-8.3,"v":-80},{"t0":2000.83,"t1":2000.94,"lat":-8.3,"v":-1},{"t0":2000.94,"t1":2001.26,"lat":-8.3,"v":-80},{"t0":2001.26,"t1":2001.49,"lat":-8.3,"v":-1},{"t0":2001.49,"t1":2001.63,"lat":-8.3,"v":-40},{"t0":2001.63,"t1":2001.82,"lat":-8.3,"v":-1},{"t0":2001.82,"t1":2002.13,"lat":-8.3,"v":-80},{"t0":2002.13,"t1":2002.47,"lat":-8.3,"v":-40},{"t0":2002.49,"t1":2002.59,"lat":-8.3,"v":-300},{"t0":2002.59,"t1":2002.66,"lat":-8.3,"v":-1},{"t0":2002.66,"t1":2002.76,"lat":-8.3,"v":-300},{"t0":2002.76,"t1":2002.82,"lat":-8.3,"v":-80},{"t0":2002.86,"t1":2003.07,"lat":-8.3,"v":-80},{"t0":2003.07,"t1":2003.17,"lat":-8.3,"v":-40},{"t0":2003.17,"t1":2003.28,"lat":-8.3,"v":-80},{"t0":2003.33,"t1":2003.42,"lat":-8.3,"v":-80},{"t0":2003.46,"t1":2003.65,"lat":-8.3,"v":-80},{"t0":2003.68,"t1":2003.79,"lat":-8.3,"v":-80},{"t0":2003.83,"t1":2003.97,"lat":-8.3,"v":-40},{"t0":2003.99,"t1":2004.22,"lat":-8.3,"v":-40},{"t0":2004.23,"t1":2004.40,"lat":-8.3,"v":-80},{"t0":2004.40,"t1":2004.50,"lat":-8.3,"v":-40},{"t0":2004.50,"t1":2004.63,"lat":-8.3,"v":-80},{"t0":2004.63,"t1":2004.77,"lat":-8.3,"v":-40},{"t0":2004.77,"t1":2004.89,"lat":-8.3,"v":-80},{"t0":2004.89,"t1":2005.04,"lat":-8.3,"v":-40},{"t0":2005.04,"t1":2005.15,"lat":-8.3,"v":-300},{"t0":2005.15,"t1":2005.26,"lat":-8.3,"v":-80},{"t0":2005.26,"t1":2005.38,"lat":-8.3,"v":-300},{"t0":2005.38,"t1":2005.45,"lat":-8.3,"v":-80},{"t0":2005.51,"t1":2005.62,"lat":-8.3,"v":-1},{"t0":2005.63,"t1":2005.74,"lat":-8.3,"v":-80},{"t0":2005.77,"t1":2005.90,"lat":-8.3,"v":-300},{"t0":2005.90,"t1":2005.98,"lat":-8.3,"v":-40},{"t0":2005.98,"t1":2006.14,"lat":-8.3,"v":-1},{"t0":2006.16,"t1":2006.26,"lat":-8.3,"v":-40},
{"t0":1988.61,"t1":1988.78,"lat":-10.6,"v":300},{"t0":1988.78,"t1":1989.39,"lat":-10.6,"v":1},{"t0":1989.39,"t1":1989.53,"lat":-10.6,"v":80},{"t0":1989.53,"t1":1989.66,"lat":-10.6,"v":1},{"t0":1989.66,"t1":1989.77,"lat":-10.6,"v":80},{"t0":1989.77,"t1":1989.88,"lat":-10.6,"v":1},{"t0":1989.88,"t1":1990.16,"lat":-10.6,"v":300},{"t0":1990.16,"t1":1990.39,"lat":-10.6,"v":1},{"t0":1990.39,"t1":1990.54,"lat":-10.6,"v":80},{"t0":1990.54,"t1":1990.74,"lat":-10.6,"v":300},{"t0":1990.74,"t1":1990.90,"lat":-10.6,"v":1},{"t0":1990.90,"t1":1991.20,"lat":-10.6,"v":300},{"t0":1991.20,"t1":1991.31,"lat":-10.6,"v":80},{"t0":1991.31,"t1":1991.66,"lat":-10.6,"v":300},{"t0":1991.69,"t1":1991.79,"lat":-10.6,"v":1000},{"t0":1991.79,"t1":1992.23,"lat":-10.6,"v":300},{"t0":1992.23,"t1":1992.56,"lat":-10.6,"v":1},{"t0":1992.56,"t1":1992.73,"lat":-10.6,"v":300},{"t0":1992.73,"t1":1992.83,"lat":-10.6,"v":80},{"t0":1992.83,"t1":1993.19,"lat":-10.6,"v":1},{"t0":1993.19,"t1":1993.40,"lat":-10.6,"v":300},{"t0":1993.40,"t1":1993.55,"lat":-10.6,"v":80},{"t0":1993.55,"t1":1994.21,"lat":-10.6,"v":1},{"t0":1994.21,"t1":1994.42,"lat":-10.6,"v":1},{"t0":1994.47,"t1":1994.85,"lat":-10.6,"v":1},{"t0":1995.03,"t1":1995.26,"lat":-10.6,"v":1},{"t0":1995.26,"t1":1995.63,"lat":-10.6,"v":1},{"t0":1995.63,"t1":1995.70,"lat":-10.6,"v":80},{"t0":1995.70,"t1":1995.82,"lat":-10.6,"v":300},{"t0":1995.89,"t1":1996.01,"lat":-10.6,"v":1},{"t0":1996.05,"t1":1996.18,"lat":-10.6,"v":1},{"t0":1996.23,"t1":1996.39,"lat":-10.6,"v":1},{"t0":1996.49,"t1":1996.53,"lat":-10.6,"v":80},{"t0":1996.53,"t1":1996.63,"lat":-10.6,"v":300},{"t0":1996.63,"t1":1996.69,"lat":-10.6,"v":1},{"t0":1996.75,"t1":1996.86,"lat":-10.6,"v":1},{"t0":1997.12,"t1":1997.22,"lat":-10.6,"v":-1},{"t0":1998.40,"t1":1998.49,"lat":-10.6,"v":-1},{"t0":1998.78,"t1":1998.86,"lat":-10.6,"v":-1},{"t0":1999.15,"t1":1999.31,"lat":-10.6,"v":-1},{"t0":1999.38,"t1":1999.73,"lat":-10.6,"v":-1},{"t0":1999.73,"t1":1999.84,"lat":-10.6,"v":-80},{"t0":1999.84,"t1":1999.89,"lat":-10.6,"v":-1},{"t0":2000.14,"t1":2000.34,"lat":-10.6,"v":-1},{"t0":2000.34,"t1":2000.42,"lat":-10.6,"v":-40},{"t0":2000.53,"t1":2000.79,"lat":-10.6,"v":-40},{"t0":2000.79,"t1":2000.86,"lat":-10.6,"v":-80},{"t0":2001.24,"t1":2001.34,"lat":-10.6,"v":-80},{"t0":2001.34,"t1":2001.41,"lat":-10.6,"v":-1},{"t0":2001.53,"t1":2001.63,"lat":-10.6,"v":-80},{"t0":2001.63,"t1":2001.71,"lat":-10.6,"v":-40},{"t0":2001.71,"t1":2001.80,"lat":-10.6,"v":-1},{"t0":2002.23,"t1":2002.39,"lat":-10.6,"v":-1},{"t0":2002.56,"t1":2002.70,"lat":-10.6,"v":-80},{"t0":2003.21,"t1":2003.40,"lat":-10.6,"v":-1},{"t0":2003.40,"t1":2003.50,"lat":-10.6,"v":-40},{"t0":2003.50,"t1":2003.54,"lat":-10.6,"v":-1},{"t0":2003.54,"t1":2003.72,"lat":-10.6,"v":-40},{"t0":2003.72,"t1":2003.82,"lat":-10.6,"v":-1},{"t0":2004.28,"t1":2004.44,"lat":-10.6,"v":-80},{"t0":2004.58,"t1":2004.70,"lat":-10.6,"v":-80},{"t0":2005.30,"t1":2005.36,"lat":-10.6,"v":-80},{"t0":2005.55,"t1":2005.74,"lat":-10.6,"v":-80},{"t0":2005.86,"t1":2006.00,"lat":-10.6,"v":-40},{"t0":2006.00,"t1":2006.14,"lat":-10.6,"v":-1},{"t0":2006.16,"t1":2006.26,"lat":-10.6,"v":-80},
{"t0":1988.02,"t1":1988.13,"lat":-12.9,"v":1},{"t0":1988.17,"t1":1988.42,"lat":-12.9,"v":1},{"t0":1988.47,"t1":1989.49,"lat":-12.9,"v":1},{"t0":1989.52,"t1":1989.62,"lat":-12.9,"v":300},{"t0":1989.62,"t1":1989.67,"lat":-12.9,"v":1},{"t0":1989.67,"t1":1989.77,"lat":-12.9,"v":300},{"t0":1989.77,"t1":1990.18,"lat":-12.9,"v":1},{"t0":1990.18,"t1":1990.36,"lat":-12.9,"v":300},{"t0":1990.36,"t1":1990.44,"lat":-12.9,"v":80},{"t0":1990.44,"t1":1990.55,"lat":-12.9,"v":300},{"t0":1990.55,"t1":1990.73,"lat":-12.9,"v":1000},{"t0":1990.73,"t1":1991.01,"lat":-12.9,"v":1},{"t0":1991.01,"t1":1991.18,"lat":-12.9,"v":1000},{"t0":1991.18,"t1":1991.32,"lat":-12.9,"v":80},{"t0":1991.32,"t1":1991.50,"lat":-12.9,"v":300},{"t0":1991.50,"t1":1991.66,"lat":-12.9,"v":80},{"t0":1991.69,"t1":1991.87,"lat":-12.9,"v":1000},{"t0":1991.87,"t1":1992.05,"lat":-12.9,"v":300},{"t0":1992.05,"t1":1992.15,"lat":-12.9,"v":1000},{"t0":1992.15,"t1":1992.43,"lat":-12.9,"v":1},{"t0":1992.43,"t1":1992.68,"lat":-12.9,"v":300},{"t0":1992.68,"t1":1992.81,"lat":-12.9,"v":1},{"t0":1992.88,"t1":1993.04,"lat":-12.9,"v":1},{"t0":1993.04,"t1":1993.22,"lat":-12.9,"v":80},{"t0":1993.22,"t1":1993.42,"lat":-12.9,"v":300},{"t0":1993.42,"t1":1993.78,"lat":-12.9,"v":1},{"t0":1993.78,"t1":1993.88,"lat":-12.9,"v":300},{"t0":1993.88,"t1":1994.06,"lat":-12.9,"v":1},{"t0":1994.06,"t1":1994.16,"lat":-12.9,"v":80},{"t0":1994.21,"t1":1994.75,"lat":-12.9,"v":1},{"t0":1994.75,"t1":1994.85,"lat":-12.9,"v":80},{"t0":1994.85,"t1":1994.98,"lat":-12.9,"v":1},{"t0":1994.98,"t1":1995.16,"lat":-12.9,"v":80},{"t0":1995.78,"t1":1995.90,"lat":-12.9,"v":1},{"t0":1995.91,"t1":1996.05,"lat":-12.9,"v":1},{"t0":1996.16,"t1":1996.40,"lat":-12.9,"v":-1},{"t0":1996.49,"t1":1996.59,"lat":-12.9,"v":-1},{"t0":1997.73,"t1":1997.87,"lat":-12.9,"v":-1},{"t0":1998.39,"t1":1998.58,"lat":-12.9,"v":-1},{"t0":1998.69,"t1":1998.87,"lat":-12.9,"v":-1},{"t0":1999.07,"t1":1999.36,"lat":-12.9,"v":-1},{"t0":1999.36,"t1":1999.47,"lat":-12.9,"v":-40},{"t0":1999.47,"t1":1999.73,"lat":-12.9,"v":-1},{"t0":1999.73,"t1":1999.81,"lat":-12.9,"v":-80},{"t0":1999.81,"t1":1999.91,"lat":-12.9,"v":-300},{"t0":1999.94,"t1":2000.08,"lat":-12.9,"v":-80},{"t0":2000.12,"t1":2000.20,"lat":-12.9,"v":-80},{"t0":2000.20,"t1":2000.34,"lat":-12.9,"v":-40},{"t0":2000.34,"t1":2000.44,"lat":-12.9,"v":-300},{"t0":2000.46,"t1":2000.61,"lat":-12.9,"v":-80},{"t0":2000.64,"t1":2000.73,"lat":-12.9,"v":-80},{"t0":2000.78,"t1":2000.89,"lat":-12.9,"v":-80},{"t0":2000.94,"t1":2001.04,"lat":-12.9,"v":-80},{"t0":2001.04,"t1":2001.14,"lat":-12.9,"v":-1},{"t0":2001.16,"t1":2001.26,"lat":-12.9,"v":-80},{"t0":2001.26,"t1":2001.52,"lat":-12.9,"v":-1},{"t0":2001.53,"t1":2001.80,"lat":-12.9,"v":-80},{"t0":2001.80,"t1":2002.05,"lat":-12.9,"v":-1},{"t0":2002.05,"t1":2002.16,"lat":-12.9,"v":-80},{"t0":2002.16,"t1":2002.19,"lat":-12.9,"v":-1},{"t0":2002.21,"t1":2002.32,"lat":-12.9,"v":-80},{"t0":2002.32,"t1":2002.42,"lat":-12.9,"v":-1},{"t0":2002.43,"t1":2002.54,"lat":-12.9,"v":-80},{"t0":2002.54,"t1":2002.64,"lat":-12.9,"v":-1},{"t0":2002.66,"t1":2002.76,"lat":-12.9,"v":-80},{"t0":2002.80,"t1":2002.90,"lat":-12.9,"v":-80},{"t0":2002.90,"t1":2003.05,"lat":-12.9,"v":-40},{"t0":2003.07,"t1":2003.23,"lat":-12.9,"v":-40},{"t0":2003.24,"t1":2003.35,"lat":-12.9,"v":-80},{"t0":2003.35,"t1":2003.46,"lat":-12.9,"v":-1},{"t0":2003.48,"t1":2003.65,"lat":-12.9,"v":-80},{"t0":2003.66,"t1":2003.91,"lat":-12.9,"v":-1},{"t0":2003.93,"t1":2004.26,"lat":-12.9,"v":-80},{"t0":2004.26,"t1":2004.36,"lat":-12.9,"v":-1},{"t0":2004.36,"t1":2004.47,"lat":-12.9,"v":-80},{"t0":2004.52,"t1":2004.63,"lat":-12.9,"v":-300},{"t0":2004.67,"t1":2004.77,"lat":-12.9,"v":-80},{"t0":2004.77,"t1":2005.30,"lat":-12.9,"v":-1},{"t0":2005.30,"t1":2005.44,"lat":-12.9,"v":-40},{"t0":2005.55,"t1":2005.67,"lat":-12.9,"v":-80},{"t0":2005.69,"t1":2005.90,"lat":-12.9,"v":-1},{"t0":2006.16,"t1":2006.26,"lat":-12.9,"v":-40},
{"t0":1988.02,"t1":1988.24,"lat":-15.3,"v":1},{"t0":1988.24,"t1":1988.35,"lat":-15.3,"v":80},{"t0":1988.40,"t1":1988.69,"lat":-15.3,"v":300},{"t0":1988.69,"t1":1988.80,"lat":-15.3,"v":1000},{"t0":1988.80,"t1":1989.25,"lat":-15.3,"v":300},{"t0":1989.25,"t1":1989.32,"lat":-15.3,"v":80},{"t0":1989.42,"t1":1989.58,"lat":-15.3,"v":300},{"t0":1989.58,"t1":1989.70,"lat":-15.3,"v":1000},{"t0":1989.75,"t1":1989.85,"lat":-15.3,"v":300},{"t0":1989.85,"t1":1990.12,"lat":-15.3,"v":80},{"t0":1990.12,"t1":1990.33,"lat":-15.3,"v":300},{"t0":1990.33,"t1":1990.44,"lat":-15.3,"v":1000},{"t0":1990.44,"t1":1990.52,"lat":-15.3,"v":80},{"t0":1990.52,"t1":1990.70,"lat":-15.3,"v":1},{"t0":1990.70,"t1":1990.90,"lat":-15.3,"v":300},{"t0":1990.90,"t1":1991.03,"lat":-15.3,"v":1},{"t0":1991.08,"t1":1991.19,"lat":-15.3,"v":1000},{"t0":1991.19,"t1":1991.31,"lat":-15.3,"v":1},{"t0":1991.31,"t1":1991.64,"lat":-15.3,"v":300},{"t0":1991.64,"t1":1991.76,"lat":-15.3,"v":1},{"t0":1991.76,"t1":1991.87,"lat":-15.3,"v":300},{"t0":1991.91,"t1":1992.10,"lat":-15.3,"v":1000},{"t0":1992.10,"t1":1992.19,"lat":-15.3,"v":1},{"t0":1992.19,"t1":1992.32,"lat":-15.3,"v":1000},{"t0":1992.32,"t1":1992.38,"lat":-15.3,"v":80},{"t0":1992.38,"t1":1992.66,"lat":-15.3,"v":1},{"t0":1992.71,"t1":1992.90,"lat":-15.3,"v":300},{"t0":1992.90,"t1":1993.04,"lat":-15.3,"v":1},{"t0":1993.04,"t1":1993.13,"lat":-15.3,"v":80},{"t0":1993.13,"t1":1993.27,"lat":-15.3,"v":1},{"t0":1993.27,"t1":1993.32,"lat":-15.3,"v":80},{"t0":1993.40,"t1":1993.65,"lat":-15.3,"v":1},{"t0":1993.70,"t1":1993.81,"lat":-15.3,"v":300},{"t0":1993.81,"t1":1994.24,"lat":-15.3,"v":1},{"t0":1994.29,"t1":1995.11,"lat":-15.3,"v":1},{"t0":1995.11,"t1":1995.29,"lat":-15.3,"v":300},{"t0":1995.29,"t1":1995.34,"lat":-15.3,"v":1},{"t0":1995.34,"t1":1995.44,"lat":-15.3,"v":300},{"t0":1995.78,"t1":1995.89,"lat":-15.3,"v":1},{"t0":1996.83,"t1":1996.93,"lat":-15.3,"v":-1},{"t0":1996.98,"t1":1997.08,"lat":-15.3,"v":-1},{"t0":1997.27,"t1":1997.38,"lat":-15.3,"v":-1},{"t0":1997.80,"t1":1997.88,"lat":-15.3,"v":-1},{"t0":1997.96,"t1":1998.25,"lat":-15.3,"v":-1},{"t0":1998.25,"t1":1998.35,"lat":-15.3,"v":-40},{"t0":1998.35,"t1":1998.84,"lat":-15.3,"v":-1},{"t0":1998.84,"t1":1998.95,"lat":-15.3,"v":-40},{"t0":1998.95,"t1":1999.17,"lat":-15.3,"v":-1},{"t0":1999.21,"t1":1999.35,"lat":-15.3,"v":-40},{"t0":1999.35,"t1":1999.61,"lat":-15.3,"v":-80},{"t0":1999.62,"t1":1999.73,"lat":-15.3,"v":-1},{"t0":1999.75,"t1":1999.81,"lat":-15.3,"v":-80},{"t0":1999.81,"t1":1999.92,"lat":-15.3,"v":-300},{"t0":1999.94,"t1":2000.14,"lat":-15.3,"v":-80},{"t0":2000.25,"t1":2000.36,"lat":-15.3,"v":-300},{"t0":2000.37,"t1":2000.53,"lat":-15.3,"v":-80},{"t0":2000.53,"t1":2000.63,"lat":-15.3,"v":-40},{"t0":2000.64,"t1":2000.73,"lat":-15.3,"v":-80},{"t0":2000.79,"t1":2000.89,"lat":-15.3,"v":-40},{"t0":2000.89,"t1":2001.41,"lat":-15.3,"v":-1},{"t0":2001.41,"t1":2001.59,"lat":-15.3,"v":-1},{"t0":2001.60,"t1":2001.80,"lat":-15.3,"v":-80},{"t0":2001.84,"t1":2001.96,"lat":-15.3,"v":-40},{"t0":2001.97,"t1":2002.18,"lat":-15.3,"v":-80},{"t0":2002.21,"t1":2002.30,"lat":-15.3,"v":-300},{"t0":2002.35,"t1":2002.46,"lat":-15.3,"v":-300},{"t0":2002.49,"t1":2002.60,"lat":-15.3,"v":-300},{"t0":2002.63,"t1":2002.76,"lat":-15.3,"v":-80},{"t0":2002.76,"t1":2002.86,"lat":-15.3,"v":-1},{"t0":2002.86,"t1":2003.01,"lat":-15.3,"v":-80},{"t0":2003.01,"t1":2003.09,"lat":-15.3,"v":-40},{"t0":2003.09,"t1":2003.21,"lat":-15.3,"v":-80},{"t0":2003.24,"t1":2003.35,"lat":-15.3,"v":-300},{"t0":2003.37,"t1":2003.50,"lat":-15.3,"v":-80},{"t0":2003.52,"t1":2003.68,"lat":-15.3,"v":-1},{"t0":2003.69,"t1":2003.77,"lat":-15.3,"v":-80},{"t0":2003.77,"t1":2003.89,"lat":-15.3,"v":-300},{"t0":2003.89,"t1":2003.98,"lat":-15.3,"v":-1},{"t0":2003.99,"t1":2004.09,"lat":-15.3,"v":-80},{"t0":2004.13,"t1":2004.26,"lat":-15.3,"v":-80},{"t0":2004.26,"t1":2004.32,"lat":-15.3,"v":-40},{"t0":2004.32,"t1":2004.43,"lat":-15.3,"v":-1},{"t0":2004.44,"t1":2004.63,"lat":-15.3,"v":-40},{"t0":2004.63,"t1":2004.73,"lat":-15.3,"v":-1},{"t0":2004.74,"t1":2004.86,"lat":-15.3,"v":-300},{"t0":2004.86,"t1":2004.93,"lat":-15.3,"v":-80},{"t0":2004.93,"t1":2005.08,"lat":-15.3,"v":-1},{"t0":2005.12,"t1":2005.22,"lat":-15.3,"v":-1},{"t0":2005.26,"t1":2005.38,"lat":-15.3,"v":-40},{"t0":2005.38,"t1":2005.51,"lat":-15.3,"v":-1},{"t0":2005.56,"t1":2005.67,"lat":-15.3,"v":-1},{"t0":2005.71,"t1":2006.10,"lat":-15.3,"v":-1},{"t0":2006.16,"t1":2006.26,"lat":-15.3,"v":-1},
{"t0":1988.02,"t1":1988.24,"lat":-17.7,"v":1},{"t0":1988.24,"t1":1988.35,"lat":-17.7,"v":80},{"t0":1988.40,"t1":1988.50,"lat":-17.7,"v":300},{"t0":1988.50,"t1":1988.86,"lat":-17.7,"v":1},{"t0":1988.86,"t1":1989.16,"lat":-17.7,"v":1000},{"t0":1989.16,"t1":1989.24,"lat":-17.7,"v":300},{"t0":1989.27,"t1":1989.52,"lat":-17.7,"v":1000},{"t0":1989.55,"t1":1989.70,"lat":-17.7,"v":1000},{"t0":1989.70,"t1":1989.83,"lat":-17.7,"v":300},{"t0":1989.83,"t1":1989.90,"lat":-17.7,"v":80},{"t0":1989.90,"t1":1990.13,"lat":-17.7,"v":1},{"t0":1990.13,"t1":1990.39,"lat":-17.7,"v":80},{"t0":1990.39,"t1":1990.54,"lat":-17.7,"v":1},{"t0":1990.54,"t1":1990.69,"lat":-17.7,"v":300},{"t0":1990.69,"t1":1990.77,"lat":-17.7,"v":80},{"t0":1990.90,"t1":1991.13,"lat":-17.7,"v":1000},{"t0":1991.13,"t1":1991.61,"lat":-17.7,"v":1},{"t0":1991.61,"t1":1991.71,"lat":-17.7,"v":300},{"t0":1991.71,"t1":1991.89,"lat":-17.7,"v":1},{"t0":1991.89,"t1":1992.15,"lat":-17.7,"v":300},{"t0":1992.20,"t1":1992.38,"lat":-17.7,"v":300},{"t0":1992.41,"t1":1992.66,"lat":-17.7,"v":1},{"t0":1992.66,"t1":1992.75,"lat":-17.7,"v":80},{"t0":1992.75,"t1":1992.84,"lat":-17.7,"v":1},{"t0":1992.84,"t1":1993.17,"lat":-17.7,"v":300},{"t0":1993.17,"t1":1993.27,"lat":-17.7,"v":1},{"t0":1993.34,"t1":1994.24,"lat":-17.7,"v":1},{"t0":1994.37,"t1":1994.55,"lat":-17.7,"v":1},{"t0":1994.75,"t1":1995.18,"lat":-17.7,"v":1},{"t0":1995.63,"t1":1995.66,"lat":-17.7,"v":1},{"t0":1997.27,"t1":1997.38,"lat":-17.7,"v":-1},{"t0":1998.56,"t1":1998.69,"lat":-17.7,"v":-80},{"t0":1998.69,"t1":1999.02,"lat":-17.7,"v":-1},{"t0":1999.02,"t1":1999.13,"lat":-17.7,"v":-40},{"t0":1999.15,"t1":1999.29,"lat":-17.7,"v":-1},{"t0":1999.60,"t1":1999.74,"lat":-17.7,"v":-40},{"t0":1999.74,"t1":1999.90,"lat":-17.7,"v":-1},{"t0":2000.18,"t1":2000.32,"lat":-17.7,"v":-80},{"t0":2000.32,"t1":2000.44,"lat":-17.7,"v":-1},{"t0":2000.64,"t1":2000.73,"lat":-17.7,"v":-80},{"t0":2000.73,"t1":2000.83,"lat":-17.7,"v":-1},{"t0":2001.24,"t1":2001.44,"lat":-17.7,"v":-40},{"t0":2001.60,"t1":2001.88,"lat":-17.7,"v":-300},{"t0":2002.15,"t1":2002.23,"lat":-17.7,"v":-80},{"t0":2002.23,"t1":2002.39,"lat":-17.7,"v":-40},{"t0":2002.56,"t1":2002.70,"lat":-17.7,"v":-80},{"t0":2003.24,"t1":2003.35,"lat":-17.7,"v":-40},{"t0":2003.54,"t1":2003.65,"lat":-17.7,"v":-300},{"t0":2003.66,"t1":2003.76,"lat":-17.7,"v":-1},{"t0":2003.76,"t1":2003.89,"lat":-17.7,"v":-300},{"t0":2003.89,"t1":2003.95,"lat":-17.7,"v":-80},{"t0":2003.97,"t1":2004.40,"lat":-17.7,"v":-1},{"t0":2004.74,"t1":2004.91,"lat":-17.7,"v":-1},{"t0":2005.34,"t1":2005.41,"lat":-17.7,"v":-40},{"t0":2005.41,"t1":2005.52,"lat":-17.7,"v":-80},{"t0":2005.56,"t1":2005.67,"lat":-17.7,"v":-1},{"t0":2005.79,"t1":2006.10,"lat":-17.7,"v":-1},
{"t0":1988.02,"t1":1988.35,"lat":-20.1,"v":300},{"t0":1988.35,"t1":1988.40,"lat":-20.1,"v":80},{"t0":1988.40,"t1":1988.58,"lat":-20.1,"v":1000},{"t0":1988.60,"t1":1988.73,"lat":-20.1,"v":1000},{"t0":1988.73,"t1":1988.93,"lat":-20.1,"v":1},{"t0":1988.93,"t1":1988.98,"lat":-20.1,"v":300},{"t0":1988.98,"t1":1989.11,"lat":-20.1,"v":80},{"t0":1989.21,"t1":1989.47,"lat":-20.1,"v":1000},{"t0":1989.47,"t1":1989.70,"lat":-20.1,"v":300},{"t0":1989.70,"t1":1989.84,"lat":-20.1,"v":80},{"t0":1989.85,"t1":1990.26,"lat":-20.1,"v":1},{"t0":1990.26,"t1":1990.65,"lat":-20.1,"v":300},{"t0":1990.65,"t1":1990.79,"lat":-20.1,"v":1},{"t0":1990.79,"t1":1990.90,"lat":-20.1,"v":80},{"t0":1990.90,"t1":1991.00,"lat":-20.1,"v":300},{"t0":1991.00,"t1":1991.09,"lat":-20.1,"v":80},{"t0":1991.09,"t1":1991.18,"lat":-20.1,"v":1000},{"t0":1991.18,"t1":1991.57,"lat":-20.1,"v":1},{"t0":1991.59,"t1":1991.71,"lat":-20.1,"v":1000},{"t0":1991.71,"t1":1991.87,"lat":-20.1,"v":300},{"t0":1991.91,"t1":1992.01,"lat":-20.1,"v":300},{"t0":1992.01,"t1":1992.39,"lat":-20.1,"v":1},{"t0":1992.49,"t1":1992.61,"lat":-20.1,"v":300},{"t0":1992.61,"t1":1992.88,"lat":-20.1,"v":1},{"t0":1992.89,"t1":1992.99,"lat":-20.1,"v":80},{"t0":1992.99,"t1":1993.42,"lat":-20.1,"v":1},{"t0":1993.47,"t1":1993.58,"lat":-20.1,"v":1},{"t0":1993.68,"t1":1993.81,"lat":-20.1,"v":300},{"t0":1993.81,"t1":1994.02,"lat":-20.1,"v":1},{"t0":1994.07,"t1":1994.24,"lat":-20.1,"v":1},{"t0":1994.80,"t1":1994.90,"lat":-20.1,"v":1},{"t0":1994.98,"t1":1995.14,"lat":-20.1,"v":1},{"t0":1996.82,"t1":1996.92,"lat":-20.1,"v":-1},{"t0":1997.05,"t1":1997.15,"lat":-20.1,"v":-1},{"t0":1997.27,"t1":1997.38,"lat":-20.1,"v":-1},{"t0":1997.42,"t1":1997.72,"lat":-20.1,"v":-1},{"t0":1997.72,"t1":1997.78,"lat":-20.1,"v":-80},{"t0":1997.78,"t1":1997.90,"lat":-20.1,"v":-40},{"t0":1997.92,"t1":1998.07,"lat":-20.1,"v":-1},{"t0":1998.18,"t1":1998.28,"lat":-20.1,"v":-80},{"t0":1998.31,"t1":1998.64,"lat":-20.1,"v":-80},{"t0":1998.68,"t1":1998.78,"lat":-20.1,"v":-80},{"t0":1998.85,"t1":1998.94,"lat":-20.1,"v":-80},{"t0":1998.94,"t1":1999.28,"lat":-20.1,"v":-1},{"t0":1999.30,"t1":1999.48,"lat":-20.1,"v":-80},{"t0":1999.48,"t1":1999.58,"lat":-20.1,"v":-40},{"t0":1999.58,"t1":1999.69,"lat":-20.1,"v":-80},{"t0":1999.69,"t1":1999.83,"lat":-20.1,"v":-40},{"t0":1999.89,"t1":2000.03,"lat":-20.1,"v":-1},{"t0":2000.05,"t1":2000.14,"lat":-20.1,"v":-80},{"t0":2000.14,"t1":2000.25,"lat":-20.1,"v":-1},{"t0":2000.25,"t1":2000.36,"lat":-20.1,"v":-300},{"t0":2000.37,"t1":2000.61,"lat":-20.1,"v":-80},{"t0":2000.67,"t1":2000.83,"lat":-20.1,"v":-1},{"t0":2000.85,"t1":2000.96,"lat":-20.1,"v":-40},{"t0":2000.96,"t1":2001.14,"lat":-20.1,"v":-1},{"t0":2001.16,"t1":2001.37,"lat":-20.1,"v":-80},{"t0":2001.37,"t1":2001.52,"lat":-20.1,"v":-1},{"t0":2001.52,"t1":2001.99,"lat":-20.1,"v":-80},{"t0":2002.06,"t1":2002.23,"lat":-20.1,"v":-80},{"t0":2002.27,"t1":2002.69,"lat":-20.1,"v":-80},{"t0":2002.73,"t1":2002.99,"lat":-20.1,"v":-80},{"t0":2002.99,"t1":2003.13,"lat":-20.1,"v":-40},{"t0":2003.13,"t1":2003.72,"lat":-20.1,"v":-1},{"t0":2003.77,"t1":2003.95,"lat":-20.1,"v":-40},{"t0":2003.96,"t1":2004.18,"lat":-20.1,"v":-1},{"t0":2004.22,"t1":2004.40,"lat":-20.1,"v":-1},{"t0":2004.74,"t1":2004.84,"lat":-20.1,"v":-1},{"t0":2005.04,"t1":2005.15,"lat":-20.1,"v":-1},{"t0":2005.42,"t1":2005.52,"lat":-20.1,"v":-1},{"t0":2005.94,"t1":2006.00,"lat":-20.1,"v":-1},{"t0":2006.00,"t1":2006.11,"lat":-20.1,"v":-40},
{"t0":1988.03,"t1":1988.14,"lat":-22.5,"v":1},{"t0":1988.17,"t1":1988.27,"lat":-22.5,"v":300},{"t0":1988.30,"t1":1988.47,"lat":-22.5,"v":80},{"t0":1988.47,"t1":1988.73,"lat":-22.5,"v":300},{"t0":1988.73,"t1":1988.86,"lat":-22.5,"v":1},{"t0":1988.86,"t1":1988.93,"lat":-22.5,"v":80},{"t0":1988.93,"t1":1989.21,"lat":-22.5,"v":1},{"t0":1989.21,"t1":1989.31,"lat":-22.5,"v":300},{"t0":1989.36,"t1":1989.46,"lat":-22.5,"v":80},{"t0":1989.46,"t1":1989.56,"lat":-22.5,"v":300},{"t0":1989.60,"t1":1989.70,"lat":-22.5,"v":80},{"t0":1989.82,"t1":1989.93,"lat":-22.5,"v":300},{"t0":1989.97,"t1":1990.06,"lat":-22.5,"v":300},{"t0":1990.07,"t1":1990.30,"lat":-22.5,"v":1},{"t0":1990.41,"t1":1990.51,"lat":-22.5,"v":300},{"t0":1990.55,"t1":1990.67,"lat":-22.5,"v":300},{"t0":1990.67,"t1":1990.86,"lat":-22.5,"v":1},{"t0":1990.86,"t1":1991.05,"lat":-22.5,"v":300},{"t0":1991.09,"t1":1991.25,"lat":-22.5,"v":1000},{"t0":1991.27,"t1":1991.45,"lat":-22.5,"v":1},{"t0":1991.46,"t1":1991.57,"lat":-22.5,"v":300},{"t0":1991.57,"t1":1991.71,"lat":-22.5,"v":1},{"t0":1991.71,"t1":1991.86,"lat":-22.5,"v":300},{"t0":1991.86,"t1":1992.68,"lat":-22.5,"v":1},{"t0":1992.80,"t1":1992.89,"lat":-22.5,"v":1},{"t0":1992.95,"t1":1993.05,"lat":-22.5,"v":80},{"t0":1993.05,"t1":1993.35,"lat":-22.5,"v":1},{"t0":1993.85,"t1":1993.95,"lat":-22.5,"v":1},{"t0":1994.00,"t1":1994.10,"lat":-22.5,"v":1},{"t0":1994.59,"t1":1994.71,"lat":-22.5,"v":1},{"t0":1997.19,"t1":1997.30,"lat":-22.5,"v":-1},{"t0":1997.42,"t1":1997.86,"lat":-22.5,"v":-1},{"t0":1997.86,"t1":1998.04,"lat":-22.5,"v":-80},{"t0":1998.09,"t1":1998.28,"lat":-22.5,"v":-80},{"t0":1998.29,"t1":1998.38,"lat":-22.5,"v":-1},{"t0":1998.39,"t1":1998.61,"lat":-22.5,"v":-80},{"t0":1998.62,"t1":1998.72,"lat":-22.5,"v":-300},{"t0":1998.73,"t1":1998.83,"lat":-22.5,"v":-1},{"t0":1998.84,"t1":1998.96,"lat":-22.5,"v":-80},{"t0":1998.97,"t1":1999.05,"lat":-22.5,"v":-80},{"t0":1999.06,"t1":1999.17,"lat":-22.5,"v":-300},{"t0":1999.30,"t1":1999.46,"lat":-22.5,"v":-1},{"t0":1999.51,"t1":1999.57,"lat":-22.5,"v":-1},{"t0":1999.58,"t1":1999.83,"lat":-22.5,"v":-40},{"t0":1999.89,"t1":2000.16,"lat":-22.5,"v":-1},{"t0":2000.18,"t1":2000.38,"lat":-22.5,"v":-80},{"t0":2000.38,"t1":2000.71,"lat":-22.5,"v":-1},{"t0":2000.73,"t1":2000.88,"lat":-22.5,"v":-80},{"t0":2000.88,"t1":2001.14,"lat":-22.5,"v":-1},{"t0":2001.14,"t1":2001.22,"lat":-22.5,"v":-40},{"t0":2001.23,"t1":2001.34,"lat":-22.5,"v":-80},{"t0":2001.34,"t1":2001.41,"lat":-22.5,"v":-1},{"t0":2001.43,"t1":2001.56,"lat":-22.5,"v":-80},{"t0":2001.67,"t1":2001.80,"lat":-22.5,"v":-80},{"t0":2001.84,"t1":2002.02,"lat":-22.5,"v":-80},{"t0":2002.02,"t1":2002.25,"lat":-22.5,"v":-1},{"t0":2002.27,"t1":2002.46,"lat":-22.5,"v":-80},{"t0":2002.48,"t1":2002.55,"lat":-22.5,"v":-1},{"t0":2002.56,"t1":2002.69,"lat":-22.5,"v":-80},{"t0":2002.70,"t1":2002.93,"lat":-22.5,"v":-1},{"t0":2002.94,"t1":2003.05,"lat":-22.5,"v":-40},{"t0":2003.07,"t1":2003.42,"lat":-22.5,"v":-1},{"t0":2003.46,"t1":2003.75,"lat":-22.5,"v":-1},{"t0":2003.76,"t1":2003.89,"lat":-22.5,"v":-80},{"t0":2003.89,"t1":2004.01,"lat":-22.5,"v":-40},{"t0":2004.06,"t1":2004.17,"lat":-22.5,"v":-1},
{"t0":1988.03,"t1":1988.17,"lat":-24.9,"v":1},{"t0":1988.17,"t1":1988.27,"lat":-24.9,"v":300},{"t0":1988.32,"t1":1988.44,"lat":-24.9,"v":300},{"t0":1988.44,"t1":1988.50,"lat":-24.9,"v":80},{"t0":1988.50,"t1":1988.69,"lat":-24.9,"v":1},{"t0":1988.69,"t1":1988.80,"lat":-24.9,"v":300},{"t0":1988.80,"t1":1989.47,"lat":-24.9,"v":1},{"t0":1989.55,"t1":1989.62,"lat":-24.9,"v":300},{"t0":1989.67,"t1":1989.77,"lat":-24.9,"v":1000},{"t0":1989.83,"t1":1990.07,"lat":-24.9,"v":300},{"t0":1990.07,"t1":1990.49,"lat":-24.9,"v":1},{"t0":1990.49,"t1":1990.59,"lat":-24.9,"v":300},{"t0":1990.64,"t1":1990.82,"lat":-24.9,"v":300},{"t0":1990.86,"t1":1990.95,"lat":-24.9,"v":80},{"t0":1990.95,"t1":1991.10,"lat":-24.9,"v":300},{"t0":1991.15,"t1":1991.32,"lat":-24.9,"v":1000},{"t0":1991.32,"t1":1991.45,"lat":-24.9,"v":1},{"t0":1991.46,"t1":1991.64,"lat":-24.9,"v":300},{"t0":1991.69,"t1":1991.78,"lat":-24.9,"v":300},{"t0":1991.79,"t1":1992.12,"lat":-24.9,"v":1},{"t0":1992.12,"t1":1992.25,"lat":-24.9,"v":300},{"t0":1992.28,"t1":1992.38,"lat":-24.9,"v":300},{"t0":1992.41,"t1":1992.68,"lat":-24.9,"v":1},{"t0":1992.72,"t1":1992.89,"lat":-24.9,"v":1000},{"t0":1992.91,"t1":1993.20,"lat":-24.9,"v":1},{"t0":1993.32,"t1":1993.43,"lat":-24.9,"v":1},{"t0":1996.84,"t1":1996.93,"lat":-24.9,"v":-1},{"t0":1997.12,"t1":1997.65,"lat":-24.9,"v":-1},{"t0":1997.65,"t1":1997.75,"lat":-24.9,"v":-80},{"t0":1997.75,"t1":1997.90,"lat":-24.9,"v":-1},{"t0":1998.16,"t1":1998.28,"lat":-24.9,"v":-300},{"t0":1998.28,"t1":1998.41,"lat":-24.9,"v":-1},{"t0":1998.56,"t1":1998.85,"lat":-24.9,"v":-1},{"t0":1999.21,"t1":1999.54,"lat":-24.9,"v":-40},{"t0":1999.54,"t1":1999.80,"lat":-24.9,"v":-80},{"t0":2000.21,"t1":2000.40,"lat":-24.9,"v":-80},{"t0":2000.40,"t1":2000.75,"lat":-24.9,"v":-1},{"t0":2000.79,"t1":2000.87,"lat":-24.9,"v":-80},{"t0":2001.20,"t1":2001.41,"lat":-24.9,"v":-1},{"t0":2001.41,"t1":2001.44,"lat":-24.9,"v":-40},{"t0":2001.60,"t1":2001.71,"lat":-24.9,"v":-80},{"t0":2001.73,"t1":2001.84,"lat":-24.9,"v":-1},{"t0":2002.19,"t1":2002.29,"lat":-24.9,"v":-1},{"t0":2002.55,"t1":2002.93,"lat":-24.9,"v":-1},{"t0":2002.94,"t1":2003.05,"lat":-24.9,"v":-40},{"t0":2003.11,"t1":2003.20,"lat":-24.9,"v":-1},{"t0":2003.25,"t1":2003.42,"lat":-24.9,"v":-1},{"t0":2003.55,"t1":2003.66,"lat":-24.9,"v":-40},{"t0":2003.66,"t1":2003.79,"lat":-24.9,"v":-1},{"t0":2003.86,"t1":2003.95,"lat":-24.9,"v":-1},{"t0":2004.06,"t1":2004.17,"lat":-24.9,"v":-1},{"t0":2005.56,"t1":2005.67,"lat":-24.9,"v":-1},{"t0":2006.01,"t1":2006.11,"lat":-24.9,"v":-1},
{"t0":1988.03,"t1":1988.19,"lat":-27.6,"v":1},{"t0":1988.24,"t1":1988.50,"lat":-27.6,"v":1},{"t0":1988.55,"t1":1988.70,"lat":-27.6,"v":1},{"t0":1988.70,"t1":1988.87,"lat":-27.6,"v":80},{"t0":1988.87,"t1":1989.02,"lat":-27.6,"v":1},{"t0":1989.07,"t1":1989.52,"lat":-27.6,"v":1},{"t0":1989.52,"t1":1989.62,"lat":-27.6,"v":80},{"t0":1989.62,"t1":1989.72,"lat":-27.6,"v":1},{"t0":1989.73,"t1":1989.84,"lat":-27.6,"v":1000},{"t0":1989.84,"t1":1989.97,"lat":-27.6,"v":1},{"t0":1989.97,"t1":1990.07,"lat":-27.6,"v":300},{"t0":1990.07,"t1":1990.21,"lat":-27.6,"v":1},{"t0":1990.26,"t1":1990.36,"lat":-27.6,"v":1},{"t0":1990.43,"t1":1990.49,"lat":-27.6,"v":80},{"t0":1990.49,"t1":1990.67,"lat":-27.6,"v":1000},{"t0":1990.79,"t1":1991.31,"lat":-27.6,"v":1},{"t0":1991.31,"t1":1991.42,"lat":-27.6,"v":80},{"t0":1991.42,"t1":1992.53,"lat":-27.6,"v":1},{"t0":1992.88,"t1":1992.98,"lat":-27.6,"v":1},{"t0":1993.25,"t1":1993.35,"lat":-27.6,"v":1},{"t0":1993.61,"t1":1993.73,"lat":-27.6,"v":1},{"t0":1996.90,"t1":1997.01,"lat":-27.6,"v":-1},{"t0":1997.19,"t1":1997.30,"lat":-27.6,"v":-1},{"t0":1997.36,"t1":1997.52,"lat":-27.6,"v":-1},{"t0":1997.57,"t1":1997.64,"lat":-27.6,"v":-40},{"t0":1997.64,"t1":1997.75,"lat":-27.6,"v":-80},{"t0":1997.76,"t1":1997.82,"lat":-27.6,"v":-1},{"t0":1997.87,"t1":1998.04,"lat":-27.6,"v":-1},{"t0":1998.09,"t1":1998.17,"lat":-27.6,"v":-1},{"t0":1998.17,"t1":1998.28,"lat":-27.6,"v":-40},{"t0":1998.28,"t1":1998.84,"lat":-27.6,"v":-1},{"t0":1998.84,"t1":1999.03,"lat":-27.6,"v":-80},{"t0":1999.03,"t1":1999.26,"lat":-27.6,"v":-1},{"t0":1999.26,"t1":1999.36,"lat":-27.6,"v":-40},{"t0":1999.36,"t1":1999.67,"lat":-27.6,"v":-1},{"t0":1999.67,"t1":1999.77,"lat":-27.6,"v":-80},{"t0":1999.77,"t1":1999.85,"lat":-27.6,"v":-40},{"t0":1999.85,"t1":1999.93,"lat":-27.6,"v":-1},{"t0":1999.98,"t1":2000.30,"lat":-27.6,"v":-1},{"t0":2000.40,"t1":2000.88,"lat":-27.6,"v":-1},{"t0":2001.00,"t1":2001.19,"lat":-27.6,"v":-1},{"t0":2001.41,"t1":2001.49,"lat":-27.6,"v":-1},{"t0":2001.53,"t1":2001.59,"lat":-27.6,"v":-1},{"t0":2001.60,"t1":2001.71,"lat":-27.6,"v":-80},{"t0":2001.73,"t1":2001.96,"lat":-27.6,"v":-1},{"t0":2001.96,"t1":2002.08,"lat":-27.6,"v":-40},{"t0":2002.10,"t1":2002.15,"lat":-27.6,"v":-1},{"t0":2002.21,"t1":2002.27,"lat":-27.6,"v":-1},{"t0":2002.27,"t1":2002.39,"lat":-27.6,"v":-40},{"t0":2002.39,"t1":2002.60,"lat":-27.6,"v":-1},{"t0":2002.66,"t1":2002.75,"lat":-27.6,"v":-1},{"t0":2002.80,"t1":2002.86,"lat":-27.6,"v":-1},{"t0":2002.86,"t1":2003.00,"lat":-27.6,"v":-80},{"t0":2003.00,"t1":2003.06,"lat":-27.6,"v":-40},
{"t0":1988.03,"t1":1988.13,"lat":-30.3,"v":80},{"t0":1988.17,"t1":1988.27,"lat":-30.3,"v":80},{"t0":1988.27,"t1":1988.58,"lat":-30.3,"v":1},{"t0":1988.63,"t1":1988.77,"lat":-30.3,"v":1},{"t0":1988.77,"t1":1988.87,"lat":-30.3,"v":80},{"t0":1988.87,"t1":1988.95,"lat":-30.3,"v":1},{"t0":1988.95,"t1":1989.00,"lat":-30.3,"v":300},{"t0":1989.00,"t1":1989.10,"lat":-30.3,"v":1000},{"t0":1989.10,"t1":1989.26,"lat":-30.3,"v":1},{"t0":1989.29,"t1":1989.39,"lat":-30.3,"v":300},{"t0":1989.39,"t1":1989.62,"lat":-30.3,"v":1},{"t0":1989.66,"t1":1990.07,"lat":-30.3,"v":1},{"t0":1990.12,"t1":1990.18,"lat":-30.3,"v":1},{"t0":1990.18,"t1":1990.29,"lat":-30.3,"v":80},{"t0":1990.29,"t1":1990.36,"lat":-30.3,"v":1},{"t0":1990.41,"t1":1990.51,"lat":-30.3,"v":80},{"t0":1990.55,"t1":1990.73,"lat":-30.3,"v":1},{"t0":1990.79,"t1":1990.89,"lat":-30.3,"v":300},{"t0":1990.89,"t1":1991.03,"lat":-30.3,"v":1},{"t0":1991.15,"t1":1991.41,"lat":-30.3,"v":1},{"t0":1991.46,"t1":1991.64,"lat":-30.3,"v":1},{"t0":1991.69,"t1":1991.86,"lat":-30.3,"v":1},{"t0":1992.29,"t1":1992.45,"lat":-30.3,"v":1},{"t0":1996.82,"t1":1997.01,"lat":-30.3,"v":-1},{"t0":1997.12,"t1":1997.30,"lat":-30.3,"v":-1},{"t0":1997.36,"t1":1997.52,"lat":-30.3,"v":-1},{"t0":1997.65,"t1":1997.75,"lat":-30.3,"v":-40},{"t0":1997.79,"t1":1998.84,"lat":-30.3,"v":-1},{"t0":1998.84,"t1":1998.95,"lat":-30.3,"v":-40},{"t0":1999.07,"t1":1999.44,"lat":-30.3,"v":-1},{"t0":1999.44,"t1":1999.54,"lat":-30.3,"v":-80},{"t0":1999.54,"t1":1999.63,"lat":-30.3,"v":-40},{"t0":1999.63,"t1":1999.67,"lat":-30.3,"v":-1},{"t0":1999.82,"t1":1999.95,"lat":-30.3,"v":-1},{"t0":1999.95,"t1":2000.08,"lat":-30.3,"v":-40},{"t0":2000.08,"t1":2000.20,"lat":-30.3,"v":-1},{"t0":2000.26,"t1":2000.71,"lat":-30.3,"v":-1},{"t0":2000.71,"t1":2000.81,"lat":-30.3,"v":-80},{"t0":2000.81,"t1":2000.87,"lat":-30.3,"v":-1},{"t0":2001.00,"t1":2001.11,"lat":-30.3,"v":-1},{"t0":2001.16,"t1":2001.26,"lat":-30.3,"v":-1},{"t0":2001.60,"t1":2001.71,"lat":-30.3,"v":-80},{"t0":2001.71,"t1":2001.80,"lat":-30.3,"v":-1},{"t0":2001.90,"t1":2002.53,"lat":-30.3,"v":-1},{"t0":2002.65,"t1":2002.76,"lat":-30.3,"v":-1},{"t0":2003.54,"t1":2003.65,"lat":-30.3,"v":-1},
{"t0":1988.03,"t1":1988.17,"lat":-32.9,"v":1},{"t0":1988.17,"t1":1988.27,"lat":-32.9,"v":80},{"t0":1988.27,"t1":1988.50,"lat":-32.9,"v":1},{"t0":1988.69,"t1":1988.83,"lat":-32.9,"v":1},{"t0":1988.83,"t1":1989.10,"lat":-32.9,"v":300},{"t0":1989.10,"t1":1989.46,"lat":-32.9,"v":1},{"t0":1989.52,"t1":1989.61,"lat":-32.9,"v":1},{"t0":1989.66,"t1":1989.92,"lat":-32.9,"v":1},{"t0":1989.97,"t1":1990.07,"lat":-32.9,"v":1},{"t0":1990.11,"t1":1990.30,"lat":-32.9,"v":300},{"t0":1990.49,"t1":1990.57,"lat":-32.9,"v":1},{"t0":1990.57,"t1":1990.67,"lat":-32.9,"v":80},{"t0":1990.67,"t1":1991.64,"lat":-32.9,"v":1},{"t0":1991.69,"t1":1991.86,"lat":-32.9,"v":1},{"t0":1991.91,"t1":1992.08,"lat":-32.9,"v":1},{"t0":1992.13,"t1":1992.23,"lat":-32.9,"v":1},{"t0":1992.88,"t1":1992.98,"lat":-32.9,"v":1},{"t0":1996.97,"t1":1997.08,"lat":-32.9,"v":-1},{"t0":1997.12,"t1":1997.22,"lat":-32.9,"v":-1},{"t0":1997.27,"t1":1997.52,"lat":-32.9,"v":-1},{"t0":1998.02,"t1":1998.28,"lat":-32.9,"v":-1},{"t0":1998.45,"t1":1998.64,"lat":-32.9,"v":-1},{"t0":1998.69,"t1":1998.79,"lat":-32.9,"v":-1},{"t0":1999.06,"t1":1999.17,"lat":-32.9,"v":-1},{"t0":1999.21,"t1":1999.41,"lat":-32.9,"v":-1},{"t0":1999.51,"t1":1999.69,"lat":-32.9,"v":-1},{"t0":1999.89,"t1":2000.21,"lat":-32.9,"v":-1},{"t0":2000.34,"t1":2000.81,"lat":-32.9,"v":-1},{"t0":2001.53,"t1":2001.63,"lat":-32.9,"v":-1},{"t0":2001.75,"t1":2001.86,"lat":-32.9,"v":-1},{"t0":2001.97,"t1":2002.08,"lat":-32.9,"v":-1},{"t0":2002.14,"t1":2002.24,"lat":-32.9,"v":-1},{"t0":2002.35,"t1":2002.53,"lat":-32.9,"v":-1},{"t0":2003.24,"t1":2003.42,"lat":-32.9,"v":-40},
{"t0":1988.03,"t1":1988.20,"lat":-35.6,"v":1},{"t0":1988.30,"t1":1988.50,"lat":-35.6,"v":1},{"t0":1988.63,"t1":1988.70,"lat":-35.6,"v":1},{"t0":1988.70,"t1":1988.87,"lat":-35.6,"v":80},{"t0":1988.87,"t1":1989.02,"lat":-35.6,"v":1},{"t0":1989.14,"t1":1989.46,"lat":-35.6,"v":1},{"t0":1989.52,"t1":1989.70,"lat":-35.6,"v":1},{"t0":1989.89,"t1":1990.11,"lat":-35.6,"v":1},{"t0":1990.11,"t1":1990.23,"lat":-35.6,"v":80},{"t0":1990.23,"t1":1990.29,"lat":-35.6,"v":1},{"t0":1990.41,"t1":1990.65,"lat":-35.6,"v":1},{"t0":1991.00,"t1":1991.11,"lat":-35.6,"v":1},{"t0":1991.38,"t1":1991.48,"lat":-35.6,"v":1},{"t0":1991.69,"t1":1991.79,"lat":-35.6,"v":1},{"t0":1992.13,"t1":1992.23,"lat":-35.6,"v":1},{"t0":1997.27,"t1":1997.45,"lat":-35.6,"v":-1},{"t0":1997.79,"t1":1997.90,"lat":-35.6,"v":-1},{"t0":1998.02,"t1":1998.12,"lat":-35.6,"v":-80},{"t0":1998.32,"t1":1998.41,"lat":-35.6,"v":-1},{"t0":1998.62,"t1":1998.72,"lat":-35.6,"v":-1},{"t0":1999.11,"t1":1999.17,"lat":-35.6,"v":-1},{"t0":1999.21,"t1":1999.31,"lat":-35.6,"v":-1},{"t0":1999.38,"t1":1999.48,"lat":-35.6,"v":-1},{"t0":1999.64,"t1":1999.74,"lat":-35.6,"v":-1},{"t0":1999.89,"t1":1999.99,"lat":-35.6,"v":-1},{"t0":2000.05,"t1":2000.29,"lat":-35.6,"v":-1},{"t0":2000.34,"t1":2000.67,"lat":-35.6,"v":-1},{"t0":2001.08,"t1":2001.27,"lat":-35.6,"v":-1},{"t0":2002.35,"t1":2002.53,"lat":-35.6,"v":-1},{"t0":2003.24,"t1":2003.35,"lat":-35.6,"v":-40},
{"t0":1988.03,"t1":1988.13,"lat":-38.6,"v":1},{"t0":1988.30,"t1":1988.43,"lat":-38.6,"v":1},{"t0":1988.54,"t1":1988.76,"lat":-38.6,"v":1},{"t0":1988.76,"t1":1988.87,"lat":-38.6,"v":80},{"t0":1988.87,"t1":1989.39,"lat":-38.6,"v":1},{"t0":1989.44,"t1":1989.70,"lat":-38.6,"v":1},{"t0":1989.89,"t1":1989.95,"lat":-38.6,"v":1},{"t0":1989.95,"t1":1990.06,"lat":-38.6,"v":80},{"t0":1990.12,"t1":1990.29,"lat":-38.6,"v":1},{"t0":1990.63,"t1":1990.82,"lat":-38.6,"v":1},{"t0":1991.00,"t1":1991.11,"lat":-38.6,"v":1},{"t0":1991.76,"t1":1991.86,"lat":-38.6,"v":1},{"t0":1992.06,"t1":1992.23,"lat":-38.6,"v":1},{"t0":1997.86,"t1":1997.97,"lat":-38.6,"v":-1},{"t0":1998.02,"t1":1998.19,"lat":-38.6,"v":-1},{"t0":1998.62,"t1":1998.72,"lat":-38.6,"v":-1},{"t0":1999.37,"t1":1999.47,"lat":-38.6,"v":-1},{"t0":2000.12,"t1":2000.21,"lat":-38.6,"v":-1},{"t0":2000.40,"t1":2000.51,"lat":-38.6,"v":-1},{"t0":2000.57,"t1":2000.67,"lat":-38.6,"v":-1},{"t0":2001.08,"t1":2001.19,"lat":-38.6,"v":-1},
{"t0":1996.97,"t1":1997.08,"lat":38,"v":1},{"t0":1998.62,"t1":1998.80,"lat":38,"v":1},{"t0":1999.28,"t1":1999.48,"lat":38,"v":300},{"t0":1999.48,"t1":1999.52,"lat":38,"v":1},{"t0":1999.52,"t1":1999.61,"lat":38,"v":80},{"t0":1999.75,"t1":1999.88,"lat":38,"v":1},{"t0":1999.88,"t1":2000.01,"lat":38,"v":300},{"t0":2000.01,"t1":2000.07,"lat":38,"v":80},{"t0":2000.12,"t1":2000.21,"lat":38,"v":1},{"t0":2001.60,"t1":2001.71,"lat":38,"v":1},
{"t0":1997.05,"t1":1997.15,"lat":35.2,"v":1},{"t0":1998.39,"t1":1998.50,"lat":35.2,"v":1},{"t0":1998.55,"t1":1998.65,"lat":35.2,"v":1},{"t0":1999.06,"t1":1999.17,"lat":35.2,"v":1},{"t0":1999.28,"t1":1999.40,"lat":35.2,"v":300},{"t0":1999.45,"t1":1999.54,"lat":35.2,"v":1},{"t0":1999.82,"t1":2000.01,"lat":35.2,"v":1},{"t0":2000.05,"t1":2000.21,"lat":35.2,"v":1},{"t0":2000.26,"t1":2000.36,"lat":35.2,"v":1},{"t0":2000.64,"t1":2000.81,"lat":35.2,"v":1},{"t0":2001.82,"t1":2001.94,"lat":35.2,"v":1},
{"t0":1996.82,"t1":1996.92,"lat":32.5,"v":1},{"t0":1996.98,"t1":1997.15,"lat":32.5,"v":1},{"t0":1997.57,"t1":1997.68,"lat":32.5,"v":1},{"t0":1997.73,"t1":1997.82,"lat":32.5,"v":1},{"t0":1997.87,"t1":1997.97,"lat":32.5,"v":1},{"t0":1998.02,"t1":1998.12,"lat":32.5,"v":1},{"t0":1998.18,"t1":1998.35,"lat":32.5,"v":1},{"t0":1998.39,"t1":1998.48,"lat":32.5,"v":1},{"t0":1998.48,"t1":1998.64,"lat":32.5,"v":300},{"t0":1998.64,"t1":1998.72,"lat":32.5,"v":80},{"t0":1998.72,"t1":1998.78,"lat":32.5,"v":1},{"t0":1998.91,"t1":1999.17,"lat":32.5,"v":1},{"t0":1999.21,"t1":1999.54,"lat":32.5,"v":1},{"t0":2000.12,"t1":2000.20,"lat":32.5,"v":80},{"t0":2000.20,"t1":2000.26,"lat":32.5,"v":1},{"t0":2000.26,"t1":2000.36,"lat":32.5,"v":80},{"t0":2000.64,"t1":2000.88,"lat":32.5,"v":1},{"t0":2001.53,"t1":2001.63,"lat":32.5,"v":1},{"t0":2003.09,"t1":2003.21,"lat":32.5,"v":1},
{"t0":1996.82,"t1":1996.92,"lat":29.9,"v":1},{"t0":1997.19,"t1":1997.30,"lat":29.9,"v":1},{"t0":1997.36,"t1":1997.52,"lat":29.9,"v":1},{"t0":1997.57,"t1":1998.35,"lat":29.9,"v":1},{"t0":1998.39,"t1":1998.48,"lat":29.9,"v":1},{"t0":1998.48,"t1":1998.54,"lat":29.9,"v":80},{"t0":1998.54,"t1":1998.64,"lat":29.9,"v":1000},{"t0":1998.65,"t1":1998.78,"lat":29.9,"v":1},{"t0":1998.91,"t1":1999.08,"lat":29.9,"v":1},{"t0":1999.08,"t1":1999.17,"lat":29.9,"v":80},{"t0":1999.17,"t1":1999.36,"lat":29.9,"v":1},{"t0":1999.36,"t1":1999.47,"lat":29.9,"v":80},{"t0":1999.48,"t1":1999.61,"lat":29.9,"v":1},{"t0":1999.82,"t1":2000.00,"lat":29.9,"v":1},{"t0":2000.05,"t1":2000.14,"lat":29.9,"v":1},{"t0":2000.18,"t1":2000.28,"lat":29.9,"v":1},{"t0":2000.64,"t1":2000.88,"lat":29.9,"v":1},{"t0":2000.94,"t1":2001.33,"lat":29.9,"v":1},{"t0":2001.53,"t1":2001.63,"lat":29.9,"v":1},{"t0":2001.69,"t1":2001.78,"lat":29.9,"v":1},{"t0":2001.97,"t1":2002.09,"lat":29.9,"v":80},{"t0":2002.64,"t1":2002.76,"lat":29.9,"v":1},{"t0":2003.09,"t1":2003.21,"lat":29.9,"v":1},{"t0":2003.39,"t1":2003.51,"lat":29.9,"v":1},
{"t0":1996.97,"t1":1997.08,"lat":27.2,"v":1},{"t0":1997.27,"t1":1997.45,"lat":27.2,"v":1},{"t0":1997.50,"t1":1997.57,"lat":27.2,"v":1},{"t0":1997.57,"t1":1997.74,"lat":27.2,"v":80},{"t0":1997.76,"t1":1997.89,"lat":27.2,"v":1},{"t0":1997.95,"t1":1998.19,"lat":27.2,"v":1},{"t0":1998.25,"t1":1998.35,"lat":27.2,"v":300},{"t0":1998.35,"t1":1998.54,"lat":27.2,"v":1},{"t0":1998.55,"t1":1998.64,"lat":27.2,"v":80},{"t0":1998.65,"t1":1998.72,"lat":27.2,"v":1},{"t0":1998.84,"t1":1998.91,"lat":27.2,"v":1},{"t0":1998.91,"t1":1999.01,"lat":27.2,"v":300},{"t0":1999.01,"t1":1999.36,"lat":27.2,"v":1},{"t0":1999.36,"t1":1999.48,"lat":27.2,"v":300},{"t0":1999.51,"t1":1999.68,"lat":27.2,"v":1},{"t0":1999.75,"t1":1999.84,"lat":27.2,"v":1},{"t0":2000.00,"t1":2000.12,"lat":27.2,"v":80},{"t0":2000.12,"t1":2000.18,"lat":27.2,"v":1},{"t0":2000.26,"t1":2000.36,"lat":27.2,"v":1},{"t0":2000.42,"t1":2000.51,"lat":27.2,"v":1},{"t0":2000.57,"t1":2000.88,"lat":27.2,"v":1},{"t0":2000.94,"t1":2001.16,"lat":27.2,"v":1},{"t0":2001.16,"t1":2001.26,"lat":27.2,"v":300},{"t0":2001.26,"t1":2001.41,"lat":27.2,"v":1},{"t0":2001.41,"t1":2001.49,"lat":27.2,"v":80},{"t0":2001.54,"t1":2001.71,"lat":27.2,"v":1},{"t0":2001.77,"t1":2001.87,"lat":27.2,"v":1},{"t0":2001.97,"t1":2002.16,"lat":27.2,"v":1},{"t0":2002.57,"t1":2002.73,"lat":27.2,"v":1},{"t0":2002.73,"t1":2002.83,"lat":27.2,"v":300},{"t0":2002.83,"t1":2002.98,"lat":27.2,"v":1},{"t0":2003.39,"t1":2003.51,"lat":27.2,"v":1},
{"t0":1997.05,"t1":1997.45,"lat":24.6,"v":1},{"t0":1997.49,"t1":1998.31,"lat":24.6,"v":1},{"t0":1998.31,"t1":1998.41,"lat":24.6,"v":300},{"t0":1998.41,"t1":1998.45,"lat":24.6,"v":80},{"t0":1998.45,"t1":1998.62,"lat":24.6,"v":1},{"t0":1998.62,"t1":1998.72,"lat":24.6,"v":80},{"t0":1998.72,"t1":1998.86,"lat":24.6,"v":1},{"t0":1998.89,"t1":1999.05,"lat":24.6,"v":300},{"t0":1999.05,"t1":1999.41,"lat":24.6,"v":1},{"t0":1999.50,"t1":1999.54,"lat":24.6,"v":300},{"t0":1999.54,"t1":1999.61,"lat":24.6,"v":1000},{"t0":1999.61,"t1":1999.85,"lat":24.6,"v":1},{"t0":2000.01,"t1":2000.10,"lat":24.6,"v":80},{"t0":2000.10,"t1":2000.40,"lat":24.6,"v":1},{"t0":2000.40,"t1":2000.67,"lat":24.6,"v":300},{"t0":2000.78,"t1":2001.02,"lat":24.6,"v":1},{"t0":2001.02,"t1":2001.07,"lat":24.6,"v":80},{"t0":2001.07,"t1":2001.24,"lat":24.6,"v":300},{"t0":2001.33,"t1":2001.41,"lat":24.6,"v":80},{"t0":2001.54,"t1":2001.63,"lat":24.6,"v":300},{"t0":2001.63,"t1":2001.94,"lat":24.6,"v":1},{"t0":2001.98,"t1":2002.25,"lat":24.6,"v":1},{"t0":2002.35,"t1":2002.72,"lat":24.6,"v":1},{"t0":2002.74,"t1":2002.92,"lat":24.6,"v":300},{"t0":2002.92,"t1":2002.98,"lat":24.6,"v":80},{"t0":2002.98,"t1":2003.05,"lat":24.6,"v":1},{"t0":2003.69,"t1":2003.79,"lat":24.6,"v":1},{"t0":2005.34,"t1":2005.45,"lat":24.6,"v":1},
{"t0":1997.27,"t1":1997.37,"lat":22,"v":1},{"t0":1997.49,"t1":1997.64,"lat":22,"v":1},{"t0":1997.64,"t1":1997.75,"lat":22,"v":300},{"t0":1997.75,"t1":1997.87,"lat":22,"v":1},{"t0":1997.87,"t1":1997.97,"lat":22,"v":80},{"t0":1997.97,"t1":1998.17,"lat":22,"v":1},{"t0":1998.17,"t1":1998.27,"lat":22,"v":80},{"t0":1998.27,"t1":1998.31,"lat":22,"v":1},{"t0":1998.31,"t1":1998.41,"lat":22,"v":80},{"t0":1998.41,"t1":1998.62,"lat":22,"v":1},{"t0":1998.62,"t1":1998.72,"lat":22,"v":80},{"t0":1998.78,"t1":1998.94,"lat":22,"v":80},{"t0":1998.94,"t1":1999.15,"lat":22,"v":1},{"t0":1999.15,"t1":1999.45,"lat":22,"v":300},{"t0":1999.45,"t1":1999.54,"lat":22,"v":80},{"t0":1999.58,"t1":1999.85,"lat":22,"v":300},{"t0":1999.92,"t1":2000.03,"lat":22,"v":1},{"t0":2000.03,"t1":2000.53,"lat":22,"v":300},{"t0":2000.53,"t1":2000.59,"lat":22,"v":80},{"t0":2000.59,"t1":2000.92,"lat":22,"v":1},{"t0":2001.05,"t1":2001.16,"lat":22,"v":80},{"t0":2001.16,"t1":2001.26,"lat":22,"v":1},{"t0":2001.26,"t1":2001.49,"lat":22,"v":300},{"t0":2001.50,"t1":2001.59,"lat":22,"v":1},{"t0":2001.60,"t1":2001.73,"lat":22,"v":300},{"t0":2001.73,"t1":2002.02,"lat":22,"v":1},{"t0":2002.02,"t1":2002.16,"lat":22,"v":300},{"t0":2002.16,"t1":2002.46,"lat":22,"v":1},{"t0":2002.85,"t1":2002.98,"lat":22,"v":1},{"t0":2003.09,"t1":2003.21,"lat":22,"v":1},{"t0":2003.69,"t1":2003.79,"lat":22,"v":1},{"t0":2005.34,"t1":2005.45,"lat":22,"v":1},
{"t0":1997.19,"t1":1997.27,"lat":19.6,"v":1},{"t0":1997.27,"t1":1997.38,"lat":19.6,"v":80},{"t0":1997.38,"t1":1997.79,"lat":19.6,"v":1},{"t0":1997.79,"t1":1997.98,"lat":19.6,"v":300},{"t0":1997.98,"t1":1998.04,"lat":19.6,"v":80},{"t0":1998.17,"t1":1998.55,"lat":19.6,"v":1},{"t0":1998.62,"t1":1998.95,"lat":19.6,"v":300},{"t0":1998.95,"t1":1999.00,"lat":19.6,"v":80},{"t0":1999.00,"t1":1999.11,"lat":19.6,"v":300},{"t0":1999.11,"t1":1999.23,"lat":19.6,"v":1},{"t0":1999.23,"t1":1999.28,"lat":19.6,"v":80},{"t0":1999.28,"t1":1999.36,"lat":19.6,"v":300},{"t0":1999.36,"t1":1999.48,"lat":19.6,"v":1000},{"t0":1999.48,"t1":1999.83,"lat":19.6,"v":300},{"t0":1999.88,"t1":2000.01,"lat":19.6,"v":1000},{"t0":2000.01,"t1":2000.10,"lat":19.6,"v":80},{"t0":2000.10,"t1":2000.20,"lat":19.6,"v":300},{"t0":2000.20,"t1":2000.33,"lat":19.6,"v":80},{"t0":2000.33,"t1":2000.55,"lat":19.6,"v":1000},{"t0":2000.55,"t1":2000.65,"lat":19.6,"v":300},{"t0":2000.65,"t1":2000.78,"lat":19.6,"v":1},{"t0":2000.78,"t1":2000.96,"lat":19.6,"v":300},{"t0":2000.96,"t1":2001.07,"lat":19.6,"v":1},{"t0":2001.07,"t1":2001.26,"lat":19.6,"v":300},{"t0":2001.33,"t1":2001.41,"lat":19.6,"v":300},{"t0":2001.61,"t1":2001.71,"lat":19.6,"v":80},{"t0":2001.71,"t1":2002.21,"lat":19.6,"v":1},{"t0":2002.21,"t1":2002.31,"lat":19.6,"v":300},{"t0":2002.31,"t1":2002.42,"lat":19.6,"v":80},{"t0":2002.42,"t1":2002.53,"lat":19.6,"v":1000},{"t0":2002.53,"t1":2002.64,"lat":19.6,"v":1},{"t0":2002.64,"t1":2002.82,"lat":19.6,"v":300},{"t0":2002.82,"t1":2002.96,"lat":19.6,"v":80},{"t0":2002.96,"t1":2003.37,"lat":19.6,"v":1},{"t0":2003.39,"t1":2003.79,"lat":19.6,"v":1},{"t0":2004.14,"t1":2004.24,"lat":19.6,"v":1},{"t0":2004.95,"t1":2005.05,"lat":19.6,"v":1},{"t0":2005.87,"t1":2005.99,"lat":19.6,"v":80},{"t0":2005.99,"t1":2006.04,"lat":19.6,"v":1},
{"t0":1996.59,"t1":1996.70,"lat":17.3,"v":-1},{"t0":1997.19,"t1":1997.67,"lat":17.3,"v":1},{"t0":1997.72,"t1":1997.98,"lat":17.3,"v":1},{"t0":1998.04,"t1":1998.31,"lat":17.3,"v":1},{"t0":1998.31,"t1":1998.41,"lat":17.3,"v":300},{"t0":1998.41,"t1":1998.45,"lat":17.3,"v":80},{"t0":1998.45,"t1":1998.60,"lat":17.3,"v":1},{"t0":1998.60,"t1":1998.76,"lat":17.3,"v":80},{"t0":1998.76,"t1":1998.85,"lat":17.3,"v":1},{"t0":1998.85,"t1":1998.97,"lat":17.3,"v":300},{"t0":1998.97,"t1":1999.11,"lat":17.3,"v":1},{"t0":1999.11,"t1":1999.17,"lat":17.3,"v":300},{"t0":1999.17,"t1":1999.44,"lat":17.3,"v":1},{"t0":1999.44,"t1":1999.54,"lat":17.3,"v":300},{"t0":1999.54,"t1":1999.83,"lat":17.3,"v":1},{"t0":1999.89,"t1":2000.10,"lat":17.3,"v":300},{"t0":2000.10,"t1":2000.20,"lat":17.3,"v":80},{"t0":2000.20,"t1":2000.26,"lat":17.3,"v":300},{"t0":2000.26,"t1":2000.36,"lat":17.3,"v":1000},{"t0":2000.36,"t1":2000.49,"lat":17.3,"v":300},{"t0":2000.49,"t1":2001.16,"lat":17.3,"v":1},{"t0":2001.16,"t1":2001.33,"lat":17.3,"v":1000},{"t0":2001.33,"t1":2001.51,"lat":17.3,"v":300},{"t0":2001.63,"t1":2001.77,"lat":17.3,"v":1},{"t0":2001.96,"t1":2002.04,"lat":17.3,"v":80},{"t0":2002.04,"t1":2002.25,"lat":17.3,"v":300},{"t0":2002.25,"t1":2002.37,"lat":17.3,"v":1},{"t0":2002.37,"t1":2002.45,"lat":17.3,"v":300},{"t0":2002.45,"t1":2002.86,"lat":17.3,"v":1},{"t0":2002.87,"t1":2002.98,"lat":17.3,"v":300},{"t0":2003.00,"t1":2003.09,"lat":17.3,"v":1},{"t0":2003.09,"t1":2003.20,"lat":17.3,"v":300},{"t0":2003.20,"t1":2003.37,"lat":17.3,"v":1},{"t0":2003.39,"t1":2003.47,"lat":17.3,"v":300},{"t0":2003.50,"t1":2003.58,"lat":17.3,"v":1},{"t0":2003.62,"t1":2003.89,"lat":17.3,"v":1},{"t0":2004.06,"t1":2004.17,"lat":17.3,"v":1},{"t0":2004.22,"t1":2004.28,"lat":17.3,"v":1},{"t0":2004.28,"t1":2004.39,"lat":17.3,"v":80},{"t0":2004.52,"t1":2004.69,"lat":17.3,"v":1},{"t0":2004.74,"t1":2004.84,"lat":17.3,"v":1},{"t0":2005.04,"t1":2005.14,"lat":17.3,"v":1},{"t0":2005.42,"t1":2005.53,"lat":17.3,"v":80},{"t0":2005.55,"t1":2005.66,"lat":17.3,"v":80},{"t0":2005.87,"t1":2005.99,"lat":17.3,"v":80},{"t0":2006.08,"t1":2006.20,"lat":17.3,"v":1},
{"t0":1997.42,"t1":1997.68,"lat":14.9,"v":1},{"t0":1997.73,"t1":1997.82,"lat":14.9,"v":1},{"t0":1997.95,"t1":1998.19,"lat":14.9,"v":1},{"t0":1998.31,"t1":1998.39,"lat":14.9,"v":1},{"t0":1998.39,"t1":1998.50,"lat":14.9,"v":80},{"t0":1998.55,"t1":1998.72,"lat":14.9,"v":300},{"t0":1998.72,"t1":1998.84,"lat":14.9,"v":80},{"t0":1998.84,"t1":1998.95,"lat":14.9,"v":300},{"t0":1998.95,"t1":1999.07,"lat":14.9,"v":1},{"t0":1999.07,"t1":1999.16,"lat":14.9,"v":300},{"t0":1999.17,"t1":1999.36,"lat":14.9,"v":1},{"t0":1999.38,"t1":1999.48,"lat":14.9,"v":300},{"t0":1999.48,"t1":1999.66,"lat":14.9,"v":1},{"t0":1999.66,"t1":1999.77,"lat":14.9,"v":300},{"t0":1999.82,"t1":1999.92,"lat":14.9,"v":300},{"t0":1999.92,"t1":2000.08,"lat":14.9,"v":80},{"t0":2000.10,"t1":2000.26,"lat":14.9,"v":300},{"t0":2000.28,"t1":2000.36,"lat":14.9,"v":300},{"t0":2000.42,"t1":2000.73,"lat":14.9,"v":300},{"t0":2000.75,"t1":2000.87,"lat":14.9,"v":1},{"t0":2000.87,"t1":2000.97,"lat":14.9,"v":300},{"t0":2000.97,"t1":2001.05,"lat":14.9,"v":80},{"t0":2001.07,"t1":2001.66,"lat":14.9,"v":300},{"t0":2001.67,"t1":2001.80,"lat":14.9,"v":1000},{"t0":2001.80,"t1":2001.87,"lat":14.9,"v":300},{"t0":2001.90,"t1":2002.21,"lat":14.9,"v":80},{"t0":2002.28,"t1":2002.46,"lat":14.9,"v":300},{"t0":2002.46,"t1":2002.50,"lat":14.9,"v":1},{"t0":2002.50,"t1":2002.71,"lat":14.9,"v":300},{"t0":2002.71,"t1":2002.81,"lat":14.9,"v":1000},{"t0":2002.81,"t1":2003.23,"lat":14.9,"v":1},{"t0":2003.24,"t1":2003.53,"lat":14.9,"v":300},{"t0":2003.53,"t1":2003.99,"lat":14.9,"v":1},{"t0":2004.06,"t1":2004.26,"lat":14.9,"v":300},{"t0":2004.26,"t1":2004.33,"lat":14.9,"v":1},{"t0":2004.39,"t1":2004.48,"lat":14.9,"v":80},{"t0":2004.58,"t1":2004.75,"lat":14.9,"v":1},{"t0":2004.75,"t1":2004.84,"lat":14.9,"v":80},{"t0":2004.95,"t1":2005.07,"lat":14.9,"v":300},{"t0":2005.08,"t1":2005.22,"lat":14.9,"v":1},{"t0":2005.26,"t1":2005.40,"lat":14.9,"v":1},{"t0":2005.41,"t1":2005.52,"lat":14.9,"v":80},{"t0":2005.52,"t1":2005.63,"lat":14.9,"v":1},{"t0":2005.85,"t1":2006.04,"lat":14.9,"v":1},
{"t0":1997.57,"t1":1997.68,"lat":12.5,"v":1},{"t0":1997.73,"t1":1997.82,"lat":12.5,"v":1},{"t0":1997.95,"t1":1998.12,"lat":12.5,"v":1},{"t0":1998.39,"t1":1998.50,"lat":12.5,"v":1},{"t0":1998.55,"t1":1998.72,"lat":12.5,"v":1},{"t0":1998.78,"t1":1999.09,"lat":12.5,"v":1},{"t0":1999.15,"t1":1999.45,"lat":12.5,"v":1},{"t0":1999.45,"t1":1999.54,"lat":12.5,"v":80},{"t0":1999.54,"t1":1999.66,"lat":12.5,"v":1},{"t0":1999.75,"t1":1999.92,"lat":12.5,"v":300},{"t0":1999.92,"t1":2000.00,"lat":12.5,"v":80},{"t0":2000.00,"t1":2000.09,"lat":12.5,"v":1},{"t0":2000.11,"t1":2000.28,"lat":12.5,"v":300},{"t0":2000.28,"t1":2000.34,"lat":12.5,"v":1},{"t0":2000.34,"t1":2000.63,"lat":12.5,"v":300},{"t0":2000.63,"t1":2000.73,"lat":12.5,"v":1000},{"t0":2000.73,"t1":2000.80,"lat":12.5,"v":300},{"t0":2000.80,"t1":2000.94,"lat":12.5,"v":1},{"t0":2000.94,"t1":2001.06,"lat":12.5,"v":300},{"t0":2001.06,"t1":2001.16,"lat":12.5,"v":1},{"t0":2001.16,"t1":2001.48,"lat":12.5,"v":300},{"t0":2001.49,"t1":2001.59,"lat":12.5,"v":1},{"t0":2001.60,"t1":2001.73,"lat":12.5,"v":300},{"t0":2001.73,"t1":2001.87,"lat":12.5,"v":1000},{"t0":2001.87,"t1":2002.00,"lat":12.5,"v":300},{"t0":2002.00,"t1":2002.21,"lat":12.5,"v":1},{"t0":2002.21,"t1":2002.31,"lat":12.5,"v":300},{"t0":2002.31,"t1":2002.48,"lat":12.5,"v":80},{"t0":2002.49,"t1":2002.76,"lat":12.5,"v":300},{"t0":2002.76,"t1":2002.80,"lat":12.5,"v":1},{"t0":2002.82,"t1":2002.90,"lat":12.5,"v":300},{"t0":2002.90,"t1":2002.99,"lat":12.5,"v":80},{"t0":2002.99,"t1":2003.10,"lat":12.5,"v":1},{"t0":2003.10,"t1":2003.28,"lat":12.5,"v":300},{"t0":2003.28,"t1":2003.37,"lat":12.5,"v":1},{"t0":2003.39,"t1":2003.50,"lat":12.5,"v":1000},{"t0":2003.50,"t1":2003.56,"lat":12.5,"v":300},{"t0":2003.59,"t1":2003.77,"lat":12.5,"v":1},{"t0":2003.77,"t1":2003.87,"lat":12.5,"v":80},{"t0":2003.89,"t1":2004.05,"lat":12.5,"v":1},{"t0":2004.07,"t1":2004.17,"lat":12.5,"v":80},{"t0":2004.17,"t1":2004.26,"lat":12.5,"v":1},{"t0":2004.36,"t1":2004.54,"lat":12.5,"v":300},{"t0":2004.56,"t1":2004.72,"lat":12.5,"v":1},{"t0":2004.74,"t1":2004.85,"lat":12.5,"v":300},{"t0":2004.85,"t1":2004.94,"lat":12.5,"v":80},{"t0":2004.97,"t1":2005.08,"lat":12.5,"v":1000},{"t0":2005.08,"t1":2005.12,"lat":12.5,"v":300},{"t0":2005.12,"t1":2005.22,"lat":12.5,"v":80},{"t0":2005.26,"t1":2005.38,"lat":12.5,"v":300},{"t0":2005.42,"t1":2005.60,"lat":12.5,"v":300},{"t0":2005.60,"t1":2005.71,"lat":12.5,"v":1},{"t0":2005.86,"t1":2005.94,"lat":12.5,"v":1},{"t0":2005.94,"t1":2006.04,"lat":12.5,"v":300},
{"t0":1998.62,"t1":1998.72,"lat":10.3,"v":1},{"t0":1998.86,"t1":1998.95,"lat":10.3,"v":1},{"t0":1998.95,"t1":1999.11,"lat":10.3,"v":80},{"t0":1999.15,"t1":1999.41,"lat":10.3,"v":1},{"t0":1999.41,"t1":1999.45,"lat":10.3,"v":80},{"t0":1999.54,"t1":1999.73,"lat":10.3,"v":1},{"t0":1999.75,"t1":2000.10,"lat":10.3,"v":300},{"t0":2000.16,"t1":2000.28,"lat":10.3,"v":300},{"t0":2000.28,"t1":2000.63,"lat":10.3,"v":1},{"t0":2000.63,"t1":2000.73,"lat":10.3,"v":1000},{"t0":2000.75,"t1":2000.87,"lat":10.3,"v":1},{"t0":2000.89,"t1":2001.12,"lat":10.3,"v":80},{"t0":2001.16,"t1":2001.28,"lat":10.3,"v":1},{"t0":2001.28,"t1":2001.44,"lat":10.3,"v":300},{"t0":2001.44,"t1":2001.49,"lat":10.3,"v":80},{"t0":2001.59,"t1":2001.80,"lat":10.3,"v":300},{"t0":2001.82,"t1":2002.21,"lat":10.3,"v":300},{"t0":2002.31,"t1":2002.41,"lat":10.3,"v":80},{"t0":2002.41,"t1":2002.62,"lat":10.3,"v":1},{"t0":2002.66,"t1":2002.82,"lat":10.3,"v":300},{"t0":2002.82,"t1":2003.37,"lat":10.3,"v":1},{"t0":2003.41,"t1":2003.52,"lat":10.3,"v":300},{"t0":2003.59,"t1":2003.77,"lat":10.3,"v":1},{"t0":2003.77,"t1":2003.87,"lat":10.3,"v":80},{"t0":2003.93,"t1":2004.03,"lat":10.3,"v":300},{"t0":2004.22,"t1":2004.42,"lat":10.3,"v":1},{"t0":2004.44,"t1":2004.54,"lat":10.3,"v":300},{"t0":2004.57,"t1":2004.69,"lat":10.3,"v":80},{"t0":2004.69,"t1":2004.74,"lat":10.3,"v":1},{"t0":2004.74,"t1":2004.85,"lat":10.3,"v":80},{"t0":2004.85,"t1":2004.95,"lat":10.3,"v":1},{"t0":2004.97,"t1":2005.07,"lat":10.3,"v":80},{"t0":2005.08,"t1":2005.25,"lat":10.3,"v":1},{"t0":2005.26,"t1":2005.47,"lat":10.3,"v":80},{"t0":2005.49,"t1":2005.59,"lat":10.3,"v":300},{"t0":2005.59,"t1":2005.73,"lat":10.3,"v":1},{"t0":2005.86,"t1":2006.04,"lat":10.3,"v":1},
{"t0":1998.18,"t1":1998.28,"lat":7.8,"v":1},{"t0":1999.58,"t1":1999.69,"lat":7.8,"v":1},{"t0":1999.75,"t1":1999.84,"lat":7.8,"v":300},{"t0":1999.84,"t1":2000.03,"lat":7.8,"v":1},{"t0":2000.03,"t1":2000.14,"lat":7.8,"v":80},{"t0":2000.14,"t1":2000.49,"lat":7.8,"v":1},{"t0":2000.49,"t1":2000.59,"lat":7.8,"v":300},{"t0":2000.59,"t1":2000.77,"lat":7.8,"v":1},{"t0":2000.78,"t1":2001.04,"lat":7.8,"v":300},{"t0":2001.04,"t1":2001.14,"lat":7.8,"v":80},{"t0":2001.14,"t1":2001.18,"lat":7.8,"v":300},{"t0":2001.24,"t1":2001.55,"lat":7.8,"v":300},{"t0":2001.60,"t1":2001.71,"lat":7.8,"v":80},{"t0":2001.77,"t1":2001.86,"lat":7.8,"v":1000},{"t0":2001.86,"t1":2001.96,"lat":7.8,"v":300},{"t0":2001.96,"t1":2002.08,"lat":7.8,"v":1000},{"t0":2002.08,"t1":2002.16,"lat":7.8,"v":300},{"t0":2002.26,"t1":2002.38,"lat":7.8,"v":300},{"t0":2002.39,"t1":2002.55,"lat":7.8,"v":1},{"t0":2002.56,"t1":2002.68,"lat":7.8,"v":1000},{"t0":2002.68,"t1":2002.82,"lat":7.8,"v":300},{"t0":2002.96,"t1":2003.05,"lat":7.8,"v":80},{"t0":2003.09,"t1":2003.35,"lat":7.8,"v":300},{"t0":2003.37,"t1":2003.54,"lat":7.8,"v":1},{"t0":2003.54,"t1":2003.65,"lat":7.8,"v":300},{"t0":2003.65,"t1":2003.76,"lat":7.8,"v":1},{"t0":2003.76,"t1":2003.96,"lat":7.8,"v":1000},{"t0":2003.96,"t1":2004.03,"lat":7.8,"v":300},{"t0":2004.03,"t1":2004.26,"lat":7.8,"v":1},{"t0":2004.29,"t1":2004.43,"lat":7.8,"v":1},{"t0":2004.52,"t1":2004.63,"lat":7.8,"v":1000},{"t0":2004.63,"t1":2004.69,"lat":7.8,"v":300},{"t0":2004.69,"t1":2004.74,"lat":7.8,"v":80},{"t0":2004.74,"t1":2004.92,"lat":7.8,"v":300},{"t0":2004.92,"t1":2005.15,"lat":7.8,"v":1},{"t0":2005.19,"t1":2005.30,"lat":7.8,"v":1},{"t0":2005.34,"t1":2005.45,"lat":7.8,"v":80},{"t0":2005.45,"t1":2005.60,"lat":7.8,"v":1},{"t0":2005.64,"t1":2005.75,"lat":7.8,"v":300},{"t0":2005.75,"t1":2005.82,"lat":7.8,"v":1},{"t0":2005.86,"t1":2005.96,"lat":7.8,"v":1},{"t0":2006.08,"t1":2006.26,"lat":7.8,"v":1},
{"t0":1999.30,"t1":1999.40,"lat":5.5,"v":1},{"t0":1999.75,"t1":1999.92,"lat":5.5,"v":1},{"t0":1999.97,"t1":2000.20,"lat":5.5,"v":1},{"t0":2000.34,"t1":2000.49,"lat":5.5,"v":1},{"t0":2000.49,"t1":2000.59,"lat":5.5,"v":300},{"t0":2000.59,"t1":2000.73,"lat":5.5,"v":1},{"t0":2000.73,"t1":2000.79,"lat":5.5,"v":80},{"t0":2000.79,"t1":2000.89,"lat":5.5,"v":300},{"t0":2000.89,"t1":2001.19,"lat":5.5,"v":1},{"t0":2001.22,"t1":2001.41,"lat":5.5,"v":1},{"t0":2001.41,"t1":2001.49,"lat":5.5,"v":300},{"t0":2001.50,"t1":2001.63,"lat":5.5,"v":80},{"t0":2001.63,"t1":2001.75,"lat":5.5,"v":1},{"t0":2001.77,"t1":2001.93,"lat":5.5,"v":1000},{"t0":2001.93,"t1":2002.00,"lat":5.5,"v":300},{"t0":2002.00,"t1":2002.08,"lat":5.5,"v":80},{"t0":2002.08,"t1":2002.27,"lat":5.5,"v":1},{"t0":2002.27,"t1":2002.46,"lat":5.5,"v":80},{"t0":2002.49,"t1":2002.64,"lat":5.5,"v":1},{"t0":2002.64,"t1":2002.76,"lat":5.5,"v":80},{"t0":2002.76,"t1":2002.86,"lat":5.5,"v":1},{"t0":2003.01,"t1":2003.10,"lat":5.5,"v":1},{"t0":2003.10,"t1":2003.29,"lat":5.5,"v":300},{"t0":2003.29,"t1":2003.40,"lat":5.5,"v":1},{"t0":2003.40,"t1":2003.56,"lat":5.5,"v":80},{"t0":2003.56,"t1":2003.68,"lat":5.5,"v":1},{"t0":2003.68,"t1":2003.88,"lat":5.5,"v":300},{"t0":2003.90,"t1":2004.02,"lat":5.5,"v":80},{"t0":2004.02,"t1":2004.17,"lat":5.5,"v":1},{"t0":2004.36,"t1":2004.43,"lat":5.5,"v":1},{"t0":2004.43,"t1":2004.54,"lat":5.5,"v":300},{"t0":2004.60,"t1":2004.70,"lat":5.5,"v":300},{"t0":2004.71,"t1":2004.95,"lat":5.5,"v":1},{"t0":2004.97,"t1":2005.08,"lat":5.5,"v":80},{"t0":2005.34,"t1":2005.45,"lat":5.5,"v":1},{"t0":2005.55,"t1":2005.67,"lat":5.5,"v":1},{"t0":2005.94,"t1":2006.19,"lat":5.5,"v":1},
{"t0":1999.30,"t1":1999.40,"lat":3.2,"v":1},{"t0":2000.09,"t1":2000.20,"lat":3.2,"v":1},{"t0":2000.34,"t1":2000.71,"lat":3.2,"v":1},{"t0":2000.73,"t1":2000.83,"lat":3.2,"v":80},{"t0":2000.83,"t1":2001.41,"lat":3.2,"v":1},{"t0":2001.53,"t1":2001.67,"lat":3.2,"v":1},{"t0":2001.67,"t1":2001.80,"lat":3.2,"v":80},{"t0":2001.80,"t1":2001.88,"lat":3.2,"v":300},{"t0":2001.92,"t1":2002.02,"lat":3.2,"v":300},{"t0":2002.21,"t1":2002.31,"lat":3.2,"v":300},{"t0":2002.39,"t1":2003.27,"lat":3.2,"v":1},{"t0":2003.41,"t1":2003.50,"lat":3.2,"v":300},{"t0":2003.50,"t1":2003.62,"lat":3.2,"v":1},{"t0":2003.64,"t1":2003.69,"lat":3.2,"v":300},{"t0":2003.69,"t1":2003.87,"lat":3.2,"v":1000},{"t0":2004.60,"t1":2004.77,"lat":3.2,"v":1},{"t0":2004.82,"t1":2004.99,"lat":3.2,"v":80},{"t0":2004.99,"t1":2005.07,"lat":3.2,"v":300},{"t0":2005.19,"t1":2005.45,"lat":3.2,"v":1},{"t0":2005.71,"t1":2005.81,"lat":3.2,"v":1},{"t0":2005.94,"t1":2006.04,"lat":3.2,"v":1},
{"t0":2000.47,"t1":2000.60,"lat":0.9,"v":1},{"t0":2000.71,"t1":2000.79,"lat":0.9,"v":1},{"t0":2000.79,"t1":2000.88,"lat":0.9,"v":80},{"t0":2001.53,"t1":2001.86,"lat":0.9,"v":1},{"t0":2001.90,"t1":2002.01,"lat":0.9,"v":1},{"t0":2002.12,"t1":2002.19,"lat":0.9,"v":1},{"t0":2002.19,"t1":2002.30,"lat":0.9,"v":300},{"t0":2002.36,"t1":2002.52,"lat":0.9,"v":1},{"t0":2002.58,"t1":2002.90,"lat":0.9,"v":1},{"t0":2003.03,"t1":2003.29,"lat":0.9,"v":1},{"t0":2003.40,"t1":2003.50,"lat":0.9,"v":1},{"t0":2003.62,"t1":2003.71,"lat":0.9,"v":1},{"t0":2003.77,"t1":2004.02,"lat":0.9,"v":1},{"t0":2004.06,"t1":2004.24,"lat":0.9,"v":1},{"t0":2004.67,"t1":2004.85,"lat":0.9,"v":1},{"t0":2005.19,"t1":2005.29,"lat":0.9,"v":80}
],
"circles":[
{"t":1989,"lat":31.4,"B":9.1,"m":9.1,"e1":23,"e2":15},{"t":1990,"lat":31.4,"B":8.3,"m":8.3,"e1":21,"e2":13},
{"t":1989,"lat":24.5,"B":-3.9,"m":3.9,"e1":13,"e2":9},{"t":1990,"lat":24.5,"B":-3.8,"m":3.8,"e1":13,"e2":9},{"t":1991,"lat":24.5,"B":-7,"m":7,"e1":18,"e2":11},
{"t":1989,"lat":17.4,"B":-5.4,"m":5.4,"e1":14,"e2":9},{"t":1990,"lat":17.4,"B":-7,"m":7,"e1":18,"e2":10},{"t":1991,"lat":17.4,"B":-5.3,"m":5.3,"e1":14,"e2":9},{"t":1992,"lat":17.4,"B":1.7,"m":1.7,"e1":10,"e2":8,"blue":1},{"t":1993,"lat":17.4,"B":-6,"m":6,"e1":15,"e2":10},{"t":1994,"lat":17.4,"B":-7.4,"m":7.4,"e1":16,"e2":10},
{"t":1990,"lat":10.4,"B":-8.4,"m":8.4,"e1":22,"e2":11},{"t":1991,"lat":10.4,"B":-7.2,"m":7.2,"e1":19,"e2":10},{"t":1992,"lat":10.4,"B":1.7,"m":1.7,"e1":12,"e2":10,"blue":1},{"t":1993,"lat":10.4,"B":-7.8,"m":7.8,"e1":18,"e2":10},{"t":1994,"lat":10.4,"B":-9.5,"m":9.5,"e1":18,"e2":11},{"t":1995,"lat":10.4,"B":-10,"m":10,"e1":25,"e2":12},
{"t":1991,"lat":3.3,"B":-5.7,"m":5.7,"e1":15,"e2":10},{"t":1992,"lat":3.3,"B":-7.1,"m":7.1,"e1":18,"e2":12},{"t":1993,"lat":3.3,"B":-7.1,"m":7.1,"e1":18,"e2":12},{"t":1994,"lat":3.3,"B":-7.1,"m":7.1,"e1":16,"e2":10},{"t":1995,"lat":3.3,"B":-9,"m":9,"e1":23,"e2":12},
{"t":1992,"lat":-3.6,"B":5.2,"m":5.2,"e1":11,"e2":10},{"t":1993,"lat":-3.6,"B":8,"m":8,"e1":19,"e2":9},{"t":1994,"lat":-3.6,"B":9.8,"m":9.8,"e1":22,"e2":9},{"t":1995,"lat":-3.6,"B":2.5,"m":2.5,"e1":12,"e2":12,"blue":1},{"t":1996,"lat":-3.6,"B":-9,"m":9,"e1":22,"e2":12},
{"t":1989,"lat":-10.6,"B":7.4,"m":7.4,"e1":18,"e2":11},{"t":1990,"lat":-10.6,"B":7,"m":7,"e1":16,"e2":9},{"t":1991,"lat":-10.6,"B":7,"m":7,"e1":15,"e2":9},{"t":1992,"lat":-10.6,"B":8.1,"m":8.1,"e1":16,"e2":10},{"t":1993,"lat":-10.6,"B":7.4,"m":7.4,"e1":16,"e2":10},{"t":1994,"lat":-10.6,"B":6.2,"m":6.2,"e1":13,"e2":9},{"t":1995,"lat":-10.6,"B":5.2,"m":5.2,"e1":12,"e2":11},
{"t":1989,"lat":-17.7,"B":7,"m":7,"e1":16,"e2":9},{"t":1990,"lat":-17.7,"B":6.4,"m":6.4,"e1":15,"e2":9},{"t":1991,"lat":-17.7,"B":5.1,"m":5.1,"e1":12,"e2":11},{"t":1992,"lat":-17.7,"B":5.7,"m":5.7,"e1":12,"e2":11},{"t":1993,"lat":-17.7,"B":5.7,"m":5.7,"e1":12,"e2":10},{"t":1994,"lat":-17.7,"B":7,"m":7,"e1":15,"e2":11},{"t":1995,"lat":-17.7,"B":8.9,"m":8.9,"e1":20,"e2":11},
{"t":1989,"lat":-24.9,"B":5.5,"m":5.5,"e1":15,"e2":15},{"t":1992,"lat":-24.9,"B":1.2,"m":1.2,"e1":13,"e2":12,"blue":1},
{"t":1999,"lat":31.4,"B":6.5,"m":6.5,"e1":16,"e2":16},
{"t":1998,"lat":24.5,"B":6.5,"m":6.5,"e1":16,"e2":13},{"t":1999,"lat":24.5,"B":7.6,"m":7.6,"e1":18,"e2":10},{"t":2000,"lat":24.5,"B":6.9,"m":6.9,"e1":16,"e2":10},{"t":2001,"lat":24.5,"B":10.5,"m":10.5,"e1":23,"e2":12},{"t":2002,"lat":24.5,"B":12.4,"m":12.4,"e1":31,"e2":12},{"t":2003,"lat":24.5,"B":12.8,"m":12.8,"e1":31,"e2":16},
{"t":1998,"lat":17.4,"B":9,"m":9,"e1":22,"e2":12},{"t":1999,"lat":17.4,"B":8.6,"m":8.6,"e1":21,"e2":12},{"t":2000,"lat":17.4,"B":8.4,"m":8.4,"e1":20,"e2":10},{"t":2001,"lat":17.4,"B":9,"m":9,"e1":22,"e2":11},{"t":2002,"lat":17.4,"B":11.1,"m":11.1,"e1":29,"e2":14},{"t":2003,"lat":17.4,"B":12.9,"m":12.9,"e1":33,"e2":14},
{"t":1999,"lat":10.4,"B":5.2,"m":5.2,"e1":13,"e2":9},{"t":2000,"lat":10.4,"B":5.2,"m":5.2,"e1":13,"e2":9},{"t":2001,"lat":10.4,"B":7.1,"m":7.1,"e1":16,"e2":9},{"t":2002,"lat":10.4,"B":9.8,"m":9.8,"e1":24,"e2":9},{"t":2003,"lat":10.4,"B":8.4,"m":8.4,"e1":20,"e2":13},
{"t":2000,"lat":3.3,"B":8.4,"m":8.4,"e1":18,"e2":10},{"t":2001,"lat":3.3,"B":8,"m":8,"e1":18,"e2":10},{"t":2002,"lat":3.3,"B":6.9,"m":6.9,"e1":15,"e2":12},{"t":2003,"lat":3.3,"B":-6.2,"m":6.2,"e1":16,"e2":16},{"t":2004,"lat":3.3,"B":3.8,"m":3.8,"e1":18,"e2":18,"blue":1},
{"t":2000,"lat":-3.6,"B":-10.8,"m":10.8,"e1":28,"e2":14},{"t":2001,"lat":-3.6,"B":-9.1,"m":9.1,"e1":20,"e2":10},{"t":2002,"lat":-3.6,"B":-10,"m":10,"e1":26,"e2":11},
{"t":1998,"lat":-10.6,"B":-7.4,"m":7.4,"e1":16,"e2":9},{"t":1999,"lat":-10.6,"B":3.1,"m":3.1,"e1":8,"e2":8},{"t":2000,"lat":-10.6,"B":-5,"m":5,"e1":10,"e2":9},{"t":2001,"lat":-10.6,"B":-7.4,"m":7.4,"e1":17,"e2":9},{"t":2002,"lat":-10.6,"B":-10,"m":10,"e1":24,"e2":11},{"t":2003,"lat":-10.6,"B":-9.2,"m":9.2,"e1":24,"e2":13},{"t":2004,"lat":-10.6,"B":-8.3,"m":8.3,"e1":22,"e2":14},{"t":2005,"lat":-10.6,"B":-12.2,"m":12.2,"e1":32,"e2":16},
{"t":1998,"lat":-17.7,"B":-9.5,"m":9.5,"e1":24,"e2":10},{"t":1999,"lat":-17.7,"B":-8.9,"m":8.9,"e1":20,"e2":10},{"t":2000,"lat":-17.7,"B":-8.4,"m":8.4,"e1":21,"e2":10},{"t":2001,"lat":-17.7,"B":-7.6,"m":7.6,"e1":18,"e2":9},{"t":2002,"lat":-17.7,"B":-6.2,"m":6.2,"e1":16,"e2":9},{"t":2003,"lat":-17.7,"B":-10,"m":10,"e1":26,"e2":12},
{"t":1998,"lat":-24.9,"B":-5,"m":5,"e1":13,"e2":11},{"t":1999,"lat":-24.9,"B":-7.8,"m":7.8,"e1":19,"e2":10},{"t":2000,"lat":-24.9,"B":-9,"m":9,"e1":22,"e2":10},{"t":2001,"lat":-24.9,"B":-8,"m":8,"e1":20,"e2":10},{"t":2002,"lat":-24.9,"B":-7.7,"m":7.7,"e1":20,"e2":12}
],
"title":[{"t":1996.85,"lat":44.5,"s":"<B","fs":46},{"t":1997.37,"lat":43,"s":"z","fs":28},{"t":1997.68,"lat":44.5,"s":">","fs":46}],"stray":[{"t":2007.31,"lat":-45.2,"s":"06"}],"zero":[{"lat":0}],
"bar":[{"a":0,"b":10},{"a":10,"b":20},{"a":20,"b":30},{"a":30,"b":40},{"a":40,"b":50},{"a":50,"b":60},{"a":60,"b":70},{"a":70,"b":80},{"a":80,"b":110},{"a":110,"b":140},{"a":140,"b":170},{"a":170,"b":200},{"a":200,"b":250},{"a":250,"b":300},{"a":300,"b":400},{"a":400,"b":500},{"a":500,"b":600},{"a":600,"b":700},{"a":700,"b":800},{"a":800,"b":900},{"a":900,"b":1000},{"a":1000,"b":1100},{"a":1100,"b":1200},{"a":1200,"b":1300}],"frame":[{"a":0,"b":1300}],
"legend":[{"t":1989.2,"B":-11.93,"m":11.93,"s":"−11.93"},{"t":1994,"B":-5.97,"m":5.97,"s":"−5.97"},{"t":1998.82,"B":6.47,"m":6.47,"s":"6.47"},{"t":2003.62,"B":12.95,"m":12.95,"s":"12.95"}]},
"vconcat":[{"bounds":"flush","spacing":170,"resolve":{"scale":{"color":"independent"}},"hconcat":[
{"width":1485,"height":645,"view":{"stroke":"#999","strokeWidth":2},
"resolve":{"axis":{"x":"independent","y":"independent"},"scale":{"size":"independent"}},
"layer":[
{"data":{"name":"heat"},"mark":{"type":"rect","height":18},"encoding":{
"x":{"field":"t0","type":"quantitative","scale":{"domain":[1988,2006.26],"nice":false,"zero":false},"axis":{"orient":"bottom","title":"Time (year)","titleFontSize":44,"titleFontWeight":"normal","titleColor":"#111","titlePadding":6,"values":[1988,1989.5,1991,1992.5,1994,1995.5,1997,1998.5,2000,2001.5,2003,2004.5,2006],"labelExpr":"indexof([1988,1994,2000,2006],datum.value)>=0?datum.value:''","labelOverlap":false,"labelFlush":false,"format":"d","labelFontSize":44,"labelColor":"#111","labelPadding":30,"tickSize":-9,"tickColor":"#888","tickWidth":1.5,"domain":false,"grid":false,"labelOffset":{"expr":"datum.value==1988?30:(datum.value==2006?24:0)"}}},
"x2":{"field":"t1"},
"y":{"field":"lat","type":"quantitative","scale":{"domain":[-40,40],"nice":false,"zero":false},"axis":{"orient":"left","title":"Latitude (Degree)","titleFontSize":44,"titleFontWeight":"normal","titleColor":"#111","titlePadding":32,"values":[-40,-35,-30,-25,-20,-15,-10,-5,0,5,10,15,20,25,30,35,40],"labelExpr":"datum.value%20==0?datum.value:''","labelOverlap":false,"labelFlush":false,"labelFontSize":42,"labelColor":"#111","labelPadding":28,"tickSize":-15,"tickColor":"#888","tickWidth":1.5,"domain":false,"grid":false,"labelOffset":{"expr":"datum.value==40?12:(datum.value==-40?-12:(datum.value==-20?5:1))"}}},
"color":{"field":"v","type":"quantitative","legend":null,"scale":{"domain":[-1300,-300,-80,-40,-0.01,0,40,60,80,300,1300],"range":["#80e5ff","#80e5ff","#a8aaff","#d2b8ff","#f7ccff","#b3ff33","#e0ff28","#ffff20","#ffe020","#ffb01a","#ff7a10"]}}}},
{"data":{"name":"zero"},"mark":{"type":"rule","color":"#999","strokeWidth":2},"encoding":{"y":{"field":"lat","type":"quantitative","axis":null}}},
{"data":{"name":"circles"},"transform":[{"filter":"datum.blue!=1"}],"mark":{"type":"point","filled":false,"strokeWidth":2,"opacity":1},"encoding":{
"x":{"field":"t","type":"quantitative","axis":{"orient":"top","title":null,"labels":false,"values":[1988,1989.5,1991,1992.5,1994,1995.5,1997,1998.5,2000,2001.5,2003,2004.5,2006],"tickSize":-9,"tickColor":"#888","tickWidth":1.5,"domain":false,"grid":false}},
"y":{"field":"lat","type":"quantitative","axis":{"orient":"right","title":null,"labels":false,"values":[-40,-35,-30,-25,-20,-15,-10,-5,0,5,10,15,20,25,30,35,40],"tickSize":-15,"tickColor":"#888","tickWidth":1.5,"domain":false,"grid":false}},
"size":{"field":"m","type":"quantitative","legend":null,"scale":{"type":"pow","exponent":2,"domain":[0,14],"range":[0,2300]}},
"stroke":{"value":"#333"},
"fill":{"condition":{"test":"datum.B<0","value":"#333"},"value":"transparent"}}},
{"data":{"name":"circles"},"transform":[{"filter":"datum.blue==1"}],"mark":{"type":"point","shape":"square","filled":true,"color":"#0050ff","opacity":1},"encoding":{"x":{"field":"t","type":"quantitative","axis":null},"y":{"field":"lat","type":"quantitative","axis":null},"size":{"field":"m","type":"quantitative","legend":null,"scale":{"type":"pow","exponent":2,"domain":[0,14],"range":[0,2300]}}}},
{"data":{"name":"circles"},"mark":{"type":"tick","orient":"vertical","thickness":1.5,"xOffset":41,"opacity":1},"encoding":{"x":{"field":"t","type":"quantitative","axis":null},"y":{"field":"lat","type":"quantitative","axis":null},"size":{"field":"e1","type":"quantitative","legend":null,"scale":null},"color":{"condition":{"test":"datum.blue==1","value":"#4a7cff"},"value":"#555"}}},
{"data":{"name":"circles"},"mark":{"type":"tick","orient":"vertical","thickness":3,"xOffset":33,"opacity":1},"encoding":{"x":{"field":"t","type":"quantitative","axis":null},"y":{"field":"lat","type":"quantitative","axis":null},"size":{"field":"e2","type":"quantitative","legend":null,"scale":null},"color":{"condition":{"test":"datum.blue==1","value":"#6a96ff"},"value":"#777"}}},
{"data":{"name":"title"},"mark":{"type":"text","color":"#111","align":"center","clip":false},"encoding":{"x":{"field":"t","type":"quantitative","axis":null},"y":{"field":"lat","type":"quantitative","axis":null},"text":{"field":"s"},"size":{"field":"fs","type":"quantitative","legend":null,"scale":null}}},
{"data":{"name":"stray"},"mark":{"type":"text","fontSize":44,"color":"#111","align":"center","clip":false},"encoding":{"x":{"field":"t","type":"quantitative","axis":null},"y":{"field":"lat","type":"quantitative","axis":null},"text":{"field":"s"}}}
]},
{"width":30,"height":645,"view":{"stroke":null},"layer":[
{"data":{"name":"bar"},"mark":{"type":"rect"},"encoding":{"x":{"value":0},"x2":{"value":30},"y":{"field":"a","type":"quantitative","scale":{"domain":[0,40,80,300,1300],"range":[535,426,317,212,103]},"axis":{"values":[0,20,40,60,80,150,300,700,1300],"labelExpr":"indexof([0,40,80,300,1300],datum.value)>=0?datum.value:''","labelOverlap":false,"title":null,"domain":false,"grid":false,"labelFontSize":38,"labelColor":"#555","tickSize":-5,"tickColor":"#555","tickWidth":1,"labelPadding":18,"labelOffset":{"expr":"datum.value==1300?12:(datum.value==0?-13:0)"}}},"y2":{"field":"b"},"color":{"field":"a","type":"quantitative","legend":null,"scale":{"domain":[0,40,60,80,300,1300],"range":["#b3ff33","#e0ff28","#ffff20","#ffe020","#ffb01a","#ff7a10"]}}}},
{"data":{"name":"frame"},"mark":{"type":"rect","fill":null,"stroke":"#6b6b30","strokeWidth":1},"encoding":{"x":{"value":0},"x2":{"value":30},"y":{"field":"a","type":"quantitative"},"y2":{"field":"b"}}}
]}
]},
{"width":1485,"height":89,"view":{"stroke":null},"data":{"name":"legend"},"layer":[
{"mark":{"type":"point","filled":false,"strokeWidth":2,"opacity":1},"encoding":{"x":{"field":"t","type":"quantitative","scale":{"domain":[1988,2006.26],"nice":false,"zero":false},"axis":null},"y":{"datum":27,"type":"quantitative","scale":{"domain":[89,0]},"axis":null},"size":{"field":"m","type":"quantitative","legend":null,"scale":{"type":"pow","exponent":2,"domain":[0,14],"range":[0,2300]}},"stroke":{"value":"#333"},"fill":{"condition":{"test":"datum.B<0","value":"#333"},"value":"transparent"}}},
{"mark":{"type":"text","fontSize":39,"color":"#111"},"encoding":{"x":{"field":"t","type":"quantitative","axis":null},"y":{"datum":77,"type":"quantitative","axis":null},"text":{"field":"s"}}}
]}
]}
